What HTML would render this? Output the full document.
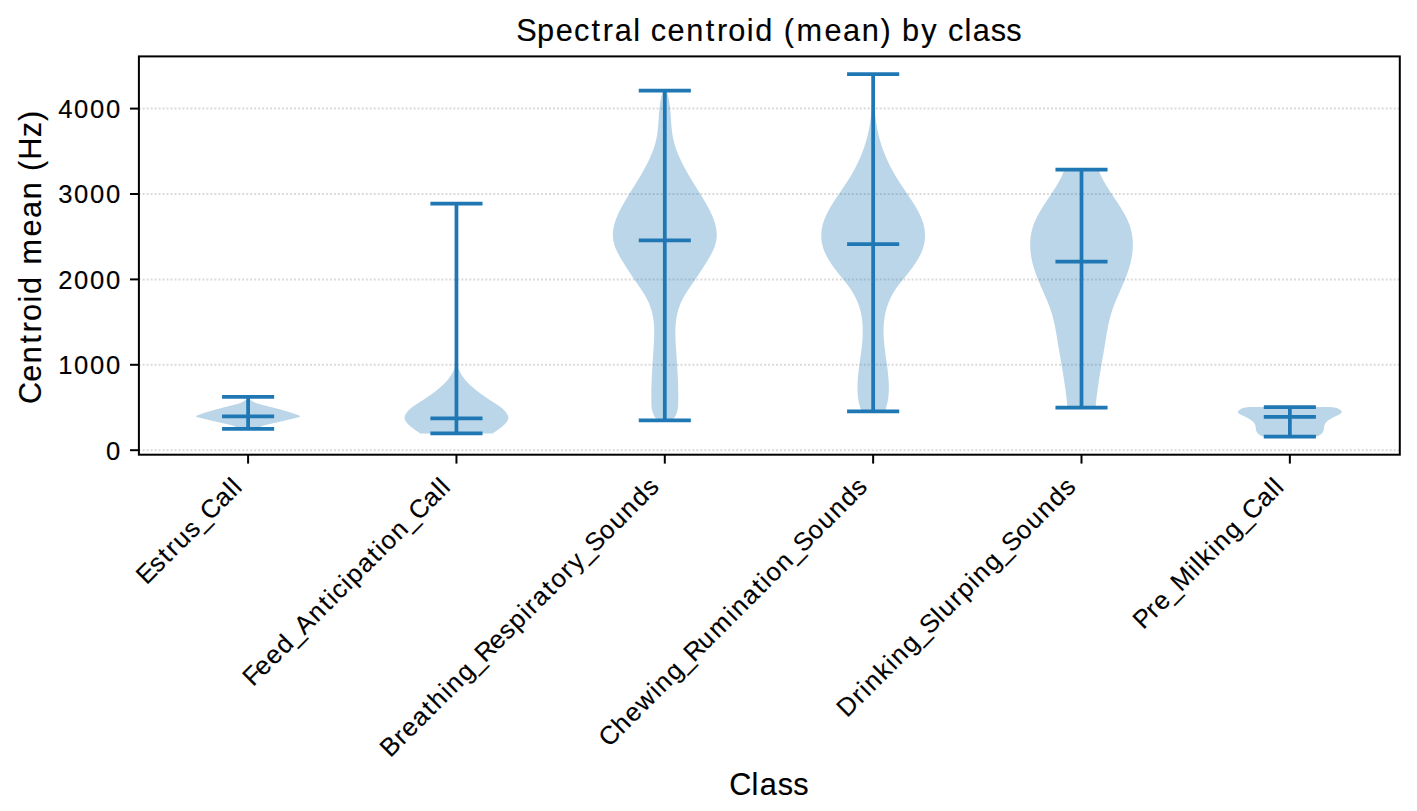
<!DOCTYPE html>
<html><head><meta charset="utf-8"><title>Spectral centroid (mean) by class</title>
<style>html,body{margin:0;padding:0;background:#fff;width:1417px;height:811px;overflow:hidden;font-family:"Liberation Sans",sans-serif;}svg{display:block;}</style>
</head><body>
<svg width="1417" height="811" viewBox="0 0 1417 811"><rect x="0" y="0" width="1417" height="811" fill="#fff"/>
<g stroke="#b0b0b0" stroke-opacity="0.47" stroke-width="2" stroke-dasharray="2 1.984" stroke-dashoffset="0.25"><line x1="138.90" y1="450.20" x2="1399.80" y2="450.20"/><line x1="138.90" y1="364.80" x2="1399.80" y2="364.80"/><line x1="138.90" y1="279.40" x2="1399.80" y2="279.40"/><line x1="138.90" y1="194.00" x2="1399.80" y2="194.00"/><line x1="138.90" y1="108.60" x2="1399.80" y2="108.60"/></g>
<g><path d="M248.60,399.60 L250.08,400.10 L251.22,400.60 L252.12,401.10 L252.91,401.60 L253.71,402.10 L254.64,402.60 L255.81,403.10 L257.27,403.60 L258.96,404.10 L260.82,404.60 L262.78,405.10 L264.78,405.60 L266.79,406.10 L268.80,406.60 L270.80,407.10 L272.77,407.60 L274.72,408.10 L276.62,408.60 L278.49,409.10 L280.32,409.60 L282.12,410.10 L283.87,410.60 L285.60,411.10 L287.28,411.60 L288.93,412.10 L290.54,412.60 L292.11,413.10 L293.64,413.60 L295.12,414.10 L296.55,414.60 L297.92,415.10 L299.19,415.60 L300.08,416.10 L300.17,416.60 L299.24,417.10 L297.60,417.60 L295.69,418.10 L293.66,418.60 L291.57,419.10 L289.43,419.60 L287.28,420.10 L285.16,420.60 L283.04,421.10 L280.91,421.60 L278.75,422.10 L276.53,422.60 L274.24,423.10 L271.94,423.60 L269.68,424.10 L267.53,424.60 L265.53,425.10 L263.76,425.60 L262.27,426.10 L261.12,426.60 L260.53,427.00 L235.67,427.00 L235.08,426.60 L233.93,426.10 L232.44,425.60 L230.67,425.10 L228.67,424.60 L226.52,424.10 L224.26,423.60 L221.96,423.10 L219.67,422.60 L217.45,422.10 L215.29,421.60 L213.16,421.10 L211.04,420.60 L208.92,420.10 L206.77,419.60 L204.63,419.10 L202.54,418.60 L200.51,418.10 L198.60,417.60 L196.96,417.10 L196.03,416.60 L196.12,416.10 L197.01,415.60 L198.28,415.10 L199.65,414.60 L201.08,414.10 L202.56,413.60 L204.09,413.10 L205.66,412.60 L207.27,412.10 L208.92,411.60 L210.60,411.10 L212.33,410.60 L214.08,410.10 L215.88,409.60 L217.71,409.10 L219.58,408.60 L221.48,408.10 L223.43,407.60 L225.40,407.10 L227.40,406.60 L229.41,406.10 L231.42,405.60 L233.42,405.10 L235.38,404.60 L237.24,404.10 L238.93,403.60 L240.39,403.10 L241.56,402.60 L242.49,402.10 L243.29,401.60 L244.08,401.10 L244.98,400.60 L246.12,400.10 L247.60,399.60 Z" fill="#1f77b4" fill-opacity="0.3"/><path d="M457.33,364.00 L457.42,364.50 L457.53,365.00 L457.64,365.50 L457.77,366.00 L457.90,366.50 L458.04,367.00 L458.19,367.50 L458.36,368.00 L458.53,368.50 L458.71,369.00 L458.90,369.50 L459.10,370.00 L459.32,370.50 L459.54,371.00 L459.77,371.50 L460.01,372.00 L460.27,372.50 L460.53,373.00 L460.80,373.50 L461.09,374.00 L461.38,374.50 L461.69,375.00 L462.00,375.50 L462.33,376.00 L462.67,376.50 L463.02,377.00 L463.37,377.50 L463.75,378.00 L464.13,378.50 L464.52,379.00 L464.92,379.50 L465.34,380.00 L465.76,380.50 L466.20,381.00 L466.65,381.50 L467.11,382.00 L467.58,382.50 L468.06,383.00 L468.56,383.50 L469.06,384.00 L469.57,384.50 L470.10,385.00 L470.63,385.50 L471.18,386.00 L471.73,386.50 L472.30,387.00 L472.87,387.50 L473.46,388.00 L474.05,388.50 L474.65,389.00 L475.26,389.50 L475.88,390.00 L476.51,390.50 L477.14,391.00 L477.79,391.50 L478.44,392.00 L479.10,392.50 L479.77,393.00 L480.44,393.50 L481.13,394.00 L481.82,394.50 L482.51,395.00 L483.22,395.50 L483.93,396.00 L484.65,396.50 L485.37,397.00 L486.10,397.50 L486.84,398.00 L487.58,398.50 L488.33,399.00 L489.08,399.50 L489.84,400.00 L490.61,400.50 L491.38,401.00 L492.15,401.50 L492.93,402.00 L493.72,402.50 L494.51,403.00 L495.29,403.50 L496.07,404.00 L496.85,404.50 L497.61,405.00 L498.36,405.50 L499.09,406.00 L499.80,406.50 L500.48,407.00 L501.13,407.50 L501.76,408.00 L502.35,408.50 L502.92,409.00 L503.45,409.50 L503.96,410.00 L504.44,410.50 L504.90,411.00 L505.33,411.50 L505.74,412.00 L506.12,412.50 L506.48,413.00 L506.82,413.50 L507.13,414.00 L507.41,414.50 L507.66,415.00 L507.87,415.50 L508.05,416.00 L508.18,416.50 L508.28,417.00 L508.32,417.50 L508.32,418.00 L508.27,418.50 L508.17,419.00 L508.03,419.50 L507.84,420.00 L507.60,420.50 L507.33,421.00 L507.02,421.50 L506.68,422.00 L506.30,422.50 L505.89,423.00 L505.45,423.50 L504.98,424.00 L504.49,424.50 L503.96,425.00 L503.42,425.50 L502.85,426.00 L502.26,426.50 L501.66,427.00 L501.03,427.50 L500.38,428.00 L499.72,428.50 L499.05,429.00 L498.36,429.50 L497.66,430.00 L496.94,430.50 L496.22,431.00 L495.49,431.50 L494.75,432.00 L494.01,432.50 L493.28,433.00 L492.80,433.40 L420.10,433.40 L419.62,433.00 L418.89,432.50 L418.15,432.00 L417.41,431.50 L416.68,431.00 L415.96,430.50 L415.24,430.00 L414.54,429.50 L413.85,429.00 L413.18,428.50 L412.52,428.00 L411.87,427.50 L411.24,427.00 L410.64,426.50 L410.05,426.00 L409.48,425.50 L408.94,425.00 L408.41,424.50 L407.92,424.00 L407.45,423.50 L407.01,423.00 L406.60,422.50 L406.22,422.00 L405.88,421.50 L405.57,421.00 L405.30,420.50 L405.06,420.00 L404.87,419.50 L404.73,419.00 L404.63,418.50 L404.58,418.00 L404.58,417.50 L404.62,417.00 L404.72,416.50 L404.85,416.00 L405.03,415.50 L405.24,415.00 L405.49,414.50 L405.77,414.00 L406.08,413.50 L406.42,413.00 L406.78,412.50 L407.16,412.00 L407.57,411.50 L408.00,411.00 L408.46,410.50 L408.94,410.00 L409.45,409.50 L409.98,409.00 L410.55,408.50 L411.14,408.00 L411.77,407.50 L412.42,407.00 L413.10,406.50 L413.81,406.00 L414.54,405.50 L415.29,405.00 L416.05,404.50 L416.83,404.00 L417.61,403.50 L418.39,403.00 L419.18,402.50 L419.97,402.00 L420.75,401.50 L421.52,401.00 L422.29,400.50 L423.06,400.00 L423.82,399.50 L424.57,399.00 L425.32,398.50 L426.06,398.00 L426.80,397.50 L427.53,397.00 L428.25,396.50 L428.97,396.00 L429.68,395.50 L430.39,395.00 L431.08,394.50 L431.77,394.00 L432.46,393.50 L433.13,393.00 L433.80,392.50 L434.46,392.00 L435.11,391.50 L435.76,391.00 L436.39,390.50 L437.02,390.00 L437.64,389.50 L438.25,389.00 L438.85,388.50 L439.44,388.00 L440.03,387.50 L440.60,387.00 L441.17,386.50 L441.72,386.00 L442.27,385.50 L442.80,385.00 L443.33,384.50 L443.84,384.00 L444.34,383.50 L444.84,383.00 L445.32,382.50 L445.79,382.00 L446.25,381.50 L446.70,381.00 L447.14,380.50 L447.56,380.00 L447.98,379.50 L448.38,379.00 L448.77,378.50 L449.15,378.00 L449.53,377.50 L449.88,377.00 L450.23,376.50 L450.57,376.00 L450.90,375.50 L451.21,375.00 L451.52,374.50 L451.81,374.00 L452.10,373.50 L452.37,373.00 L452.63,372.50 L452.89,372.00 L453.13,371.50 L453.36,371.00 L453.58,370.50 L453.80,370.00 L454.00,369.50 L454.19,369.00 L454.37,368.50 L454.54,368.00 L454.71,367.50 L454.86,367.00 L455.00,366.50 L455.13,366.00 L455.26,365.50 L455.37,365.00 L455.48,364.50 L455.57,364.00 Z" fill="#1f77b4" fill-opacity="0.3"/><path d="M666.41,90.60 L666.58,91.10 L666.75,91.60 L666.91,92.10 L667.07,92.60 L667.22,93.10 L667.37,93.60 L667.51,94.10 L667.65,94.60 L667.79,95.10 L667.92,95.60 L668.05,96.10 L668.17,96.60 L668.29,97.10 L668.40,97.60 L668.51,98.10 L668.62,98.60 L668.72,99.10 L668.82,99.60 L668.92,100.10 L669.01,100.60 L669.10,101.10 L669.19,101.60 L669.28,102.10 L669.36,102.60 L669.43,103.10 L669.51,103.60 L669.58,104.10 L669.65,104.60 L669.72,105.10 L669.79,105.60 L669.85,106.10 L669.91,106.60 L669.97,107.10 L670.02,107.60 L670.08,108.10 L670.13,108.60 L670.18,109.10 L670.23,109.60 L670.28,110.10 L670.32,110.60 L670.37,111.10 L670.41,111.60 L670.45,112.10 L670.49,112.60 L670.53,113.10 L670.57,113.60 L670.60,114.10 L670.64,114.60 L670.68,115.10 L670.71,115.60 L670.75,116.10 L670.78,116.60 L670.81,117.10 L670.85,117.60 L670.88,118.10 L670.91,118.60 L670.95,119.10 L670.98,119.60 L671.01,120.10 L671.05,120.60 L671.08,121.10 L671.11,121.60 L671.15,122.10 L671.18,122.60 L671.22,123.10 L671.26,123.60 L671.29,124.10 L671.33,124.60 L671.37,125.10 L671.41,125.60 L671.45,126.10 L671.50,126.60 L671.54,127.10 L671.59,127.60 L671.64,128.10 L671.69,128.60 L671.74,129.10 L671.79,129.60 L671.84,130.10 L671.90,130.60 L671.96,131.10 L672.02,131.60 L672.09,132.10 L672.15,132.60 L672.22,133.10 L672.29,133.60 L672.36,134.10 L672.44,134.60 L672.52,135.10 L672.60,135.60 L672.69,136.10 L672.77,136.60 L672.87,137.10 L672.96,137.60 L673.06,138.10 L673.16,138.60 L673.27,139.10 L673.37,139.60 L673.49,140.10 L673.60,140.60 L673.72,141.10 L673.85,141.60 L673.97,142.10 L674.10,142.60 L674.24,143.10 L674.37,143.60 L674.52,144.10 L674.66,144.60 L674.81,145.10 L674.96,145.60 L675.11,146.10 L675.27,146.60 L675.43,147.10 L675.60,147.60 L675.77,148.10 L675.94,148.60 L676.11,149.10 L676.29,149.60 L676.47,150.10 L676.65,150.60 L676.84,151.10 L677.03,151.60 L677.22,152.10 L677.41,152.60 L677.61,153.10 L677.81,153.60 L678.02,154.10 L678.22,154.60 L678.43,155.10 L678.64,155.60 L678.86,156.10 L679.07,156.60 L679.29,157.10 L679.52,157.60 L679.74,158.10 L679.97,158.60 L680.20,159.10 L680.43,159.60 L680.67,160.10 L680.90,160.60 L681.14,161.10 L681.38,161.60 L681.63,162.10 L681.87,162.60 L682.12,163.10 L682.37,163.60 L682.63,164.10 L682.88,164.60 L683.14,165.10 L683.40,165.60 L683.66,166.10 L683.92,166.60 L684.19,167.10 L684.45,167.60 L684.72,168.10 L684.99,168.60 L685.27,169.10 L685.54,169.60 L685.82,170.10 L686.09,170.60 L686.37,171.10 L686.65,171.60 L686.94,172.10 L687.22,172.60 L687.51,173.10 L687.79,173.60 L688.08,174.10 L688.37,174.60 L688.66,175.10 L688.96,175.60 L689.25,176.10 L689.55,176.60 L689.84,177.10 L690.14,177.60 L690.44,178.10 L690.74,178.60 L691.04,179.10 L691.35,179.60 L691.65,180.10 L691.96,180.60 L692.26,181.10 L692.57,181.60 L692.87,182.10 L693.18,182.60 L693.49,183.10 L693.80,183.60 L694.11,184.10 L694.42,184.60 L694.73,185.10 L695.04,185.60 L695.36,186.10 L695.67,186.60 L695.98,187.10 L696.29,187.60 L696.61,188.10 L696.92,188.60 L697.23,189.10 L697.54,189.60 L697.86,190.10 L698.17,190.60 L698.48,191.10 L698.79,191.60 L699.10,192.10 L699.41,192.60 L699.72,193.10 L700.03,193.60 L700.34,194.10 L700.65,194.60 L700.96,195.10 L701.26,195.60 L701.57,196.10 L701.87,196.60 L702.18,197.10 L702.48,197.60 L702.78,198.10 L703.08,198.60 L703.38,199.10 L703.68,199.60 L703.97,200.10 L704.27,200.60 L704.56,201.10 L704.85,201.60 L705.14,202.10 L705.43,202.60 L705.72,203.10 L706.00,203.60 L706.29,204.10 L706.57,204.60 L706.85,205.10 L707.13,205.60 L707.40,206.10 L707.67,206.60 L707.94,207.10 L708.21,207.60 L708.48,208.10 L708.74,208.60 L709.00,209.10 L709.26,209.60 L709.51,210.10 L709.77,210.60 L710.01,211.10 L710.26,211.60 L710.50,212.10 L710.74,212.60 L710.98,213.10 L711.21,213.60 L711.44,214.10 L711.66,214.60 L711.89,215.10 L712.10,215.60 L712.32,216.10 L712.53,216.60 L712.73,217.10 L712.94,217.60 L713.13,218.10 L713.33,218.60 L713.52,219.10 L713.70,219.60 L713.88,220.10 L714.06,220.60 L714.23,221.10 L714.39,221.60 L714.55,222.10 L714.71,222.60 L714.86,223.10 L715.00,223.60 L715.14,224.10 L715.28,224.60 L715.41,225.10 L715.53,225.60 L715.65,226.10 L715.76,226.60 L715.87,227.10 L715.97,227.60 L716.07,228.10 L716.15,228.60 L716.24,229.10 L716.31,229.60 L716.38,230.10 L716.45,230.60 L716.51,231.10 L716.56,231.60 L716.60,232.10 L716.64,232.60 L716.67,233.10 L716.69,233.60 L716.71,234.10 L716.72,234.60 L716.72,235.10 L716.72,235.60 L716.70,236.10 L716.68,236.60 L716.66,237.10 L716.62,237.60 L716.58,238.10 L716.53,238.60 L716.47,239.10 L716.41,239.60 L716.33,240.10 L716.25,240.60 L716.16,241.10 L716.06,241.60 L715.95,242.10 L715.84,242.60 L715.72,243.10 L715.58,243.60 L715.45,244.10 L715.30,244.60 L715.14,245.10 L714.98,245.60 L714.81,246.10 L714.64,246.60 L714.46,247.10 L714.27,247.60 L714.07,248.10 L713.87,248.60 L713.66,249.10 L713.45,249.60 L713.23,250.10 L713.01,250.60 L712.77,251.10 L712.54,251.60 L712.30,252.10 L712.05,252.60 L711.80,253.10 L711.54,253.60 L711.28,254.10 L711.02,254.60 L710.75,255.10 L710.48,255.60 L710.20,256.10 L709.92,256.60 L709.64,257.10 L709.35,257.60 L709.06,258.10 L708.77,258.60 L708.47,259.10 L708.17,259.60 L707.87,260.10 L707.57,260.60 L707.26,261.10 L706.96,261.60 L706.65,262.10 L706.34,262.60 L706.02,263.10 L705.71,263.60 L705.39,264.10 L705.08,264.60 L704.76,265.10 L704.44,265.60 L704.12,266.10 L703.81,266.60 L703.49,267.10 L703.17,267.60 L702.85,268.10 L702.53,268.60 L702.21,269.10 L701.88,269.60 L701.56,270.10 L701.24,270.60 L700.92,271.10 L700.59,271.60 L700.27,272.10 L699.94,272.60 L699.61,273.10 L699.29,273.60 L698.96,274.10 L698.63,274.60 L698.30,275.10 L697.97,275.60 L697.63,276.10 L697.30,276.60 L696.97,277.10 L696.63,277.60 L696.29,278.10 L695.95,278.60 L695.61,279.10 L695.27,279.60 L694.93,280.10 L694.59,280.60 L694.24,281.10 L693.89,281.60 L693.55,282.10 L693.20,282.60 L692.85,283.10 L692.51,283.60 L692.16,284.10 L691.81,284.60 L691.47,285.10 L691.12,285.60 L690.78,286.10 L690.43,286.60 L690.09,287.10 L689.75,287.60 L689.41,288.10 L689.07,288.60 L688.73,289.10 L688.40,289.60 L688.07,290.10 L687.74,290.60 L687.41,291.10 L687.08,291.60 L686.76,292.10 L686.44,292.60 L686.13,293.10 L685.82,293.60 L685.51,294.10 L685.20,294.60 L684.90,295.10 L684.61,295.60 L684.31,296.10 L684.03,296.60 L683.74,297.10 L683.47,297.60 L683.19,298.10 L682.92,298.60 L682.66,299.10 L682.40,299.60 L682.15,300.10 L681.91,300.60 L681.67,301.10 L681.43,301.60 L681.20,302.10 L680.98,302.60 L680.76,303.10 L680.55,303.60 L680.34,304.10 L680.14,304.60 L679.94,305.10 L679.75,305.60 L679.56,306.10 L679.38,306.60 L679.20,307.10 L679.03,307.60 L678.86,308.10 L678.70,308.60 L678.54,309.10 L678.39,309.60 L678.24,310.10 L678.09,310.60 L677.95,311.10 L677.82,311.60 L677.69,312.10 L677.56,312.60 L677.44,313.10 L677.32,313.60 L677.21,314.10 L677.10,314.60 L676.99,315.10 L676.89,315.60 L676.79,316.10 L676.70,316.60 L676.61,317.10 L676.52,317.60 L676.44,318.10 L676.36,318.60 L676.28,319.10 L676.21,319.60 L676.14,320.10 L676.08,320.60 L676.01,321.10 L675.95,321.60 L675.90,322.10 L675.85,322.60 L675.80,323.10 L675.75,323.60 L675.71,324.10 L675.67,324.60 L675.63,325.10 L675.59,325.60 L675.56,326.10 L675.53,326.60 L675.51,327.10 L675.48,327.60 L675.46,328.10 L675.44,328.60 L675.43,329.10 L675.41,329.60 L675.40,330.10 L675.39,330.60 L675.38,331.10 L675.38,331.60 L675.37,332.10 L675.37,332.60 L675.37,333.10 L675.38,333.60 L675.38,334.10 L675.39,334.60 L675.39,335.10 L675.40,335.60 L675.42,336.10 L675.43,336.60 L675.44,337.10 L675.46,337.60 L675.48,338.10 L675.49,338.60 L675.51,339.10 L675.53,339.60 L675.56,340.10 L675.58,340.60 L675.60,341.10 L675.63,341.60 L675.65,342.10 L675.68,342.60 L675.71,343.10 L675.74,343.60 L675.77,344.10 L675.80,344.60 L675.83,345.10 L675.86,345.60 L675.89,346.10 L675.92,346.60 L675.95,347.10 L675.99,347.60 L676.02,348.10 L676.05,348.60 L676.08,349.10 L676.12,349.60 L676.15,350.10 L676.18,350.60 L676.22,351.10 L676.25,351.60 L676.28,352.10 L676.32,352.60 L676.35,353.10 L676.38,353.60 L676.42,354.10 L676.45,354.60 L676.48,355.10 L676.52,355.60 L676.55,356.10 L676.58,356.60 L676.62,357.10 L676.65,357.60 L676.68,358.10 L676.71,358.60 L676.75,359.10 L676.78,359.60 L676.81,360.10 L676.84,360.60 L676.88,361.10 L676.91,361.60 L676.94,362.10 L676.97,362.60 L677.00,363.10 L677.03,363.60 L677.07,364.10 L677.10,364.60 L677.13,365.10 L677.16,365.60 L677.19,366.10 L677.22,366.60 L677.25,367.10 L677.28,367.60 L677.31,368.10 L677.34,368.60 L677.37,369.10 L677.40,369.60 L677.42,370.10 L677.45,370.60 L677.48,371.10 L677.51,371.60 L677.53,372.10 L677.56,372.60 L677.59,373.10 L677.61,373.60 L677.64,374.10 L677.66,374.60 L677.69,375.10 L677.71,375.60 L677.74,376.10 L677.76,376.60 L677.79,377.10 L677.81,377.60 L677.83,378.10 L677.85,378.60 L677.87,379.10 L677.90,379.60 L677.92,380.10 L677.94,380.60 L677.96,381.10 L677.98,381.60 L677.99,382.10 L678.01,382.60 L678.03,383.10 L678.05,383.60 L678.06,384.10 L678.08,384.60 L678.10,385.10 L678.11,385.60 L678.13,386.10 L678.14,386.60 L678.15,387.10 L678.17,387.60 L678.18,388.10 L678.19,388.60 L678.20,389.10 L678.21,389.60 L678.22,390.10 L678.23,390.60 L678.24,391.10 L678.25,391.60 L678.25,392.10 L678.26,392.60 L678.26,393.10 L678.27,393.60 L678.27,394.10 L678.28,394.60 L678.28,395.10 L678.28,395.60 L678.28,396.10 L678.28,396.60 L678.28,397.10 L678.28,397.60 L678.28,398.10 L678.28,398.60 L678.28,399.10 L678.27,399.60 L678.27,400.10 L678.26,400.60 L678.25,401.10 L678.25,401.60 L678.24,402.10 L678.23,402.60 L678.22,403.10 L678.20,403.60 L678.19,404.10 L678.17,404.60 L678.14,405.10 L678.11,405.60 L678.08,406.10 L678.03,406.60 L677.99,407.10 L677.93,407.60 L677.87,408.10 L677.80,408.60 L677.72,409.10 L677.63,409.60 L677.53,410.10 L677.42,410.60 L677.30,411.10 L677.16,411.60 L677.02,412.10 L676.86,412.60 L676.69,413.10 L676.50,413.60 L676.30,414.10 L676.08,414.60 L675.85,415.10 L675.60,415.60 L675.34,416.10 L675.05,416.60 L674.75,417.10 L674.39,417.60 L673.99,418.10 L673.50,418.60 L672.92,419.10 L672.24,419.60 L671.43,420.10 L670.87,420.40 L658.73,420.40 L658.17,420.10 L657.36,419.60 L656.68,419.10 L656.10,418.60 L655.61,418.10 L655.21,417.60 L654.85,417.10 L654.55,416.60 L654.26,416.10 L654.00,415.60 L653.75,415.10 L653.52,414.60 L653.30,414.10 L653.10,413.60 L652.91,413.10 L652.74,412.60 L652.58,412.10 L652.44,411.60 L652.30,411.10 L652.18,410.60 L652.07,410.10 L651.97,409.60 L651.88,409.10 L651.80,408.60 L651.73,408.10 L651.67,407.60 L651.61,407.10 L651.57,406.60 L651.52,406.10 L651.49,405.60 L651.46,405.10 L651.43,404.60 L651.41,404.10 L651.40,403.60 L651.38,403.10 L651.37,402.60 L651.36,402.10 L651.35,401.60 L651.35,401.10 L651.34,400.60 L651.33,400.10 L651.33,399.60 L651.32,399.10 L651.32,398.60 L651.32,398.10 L651.32,397.60 L651.32,397.10 L651.32,396.60 L651.32,396.10 L651.32,395.60 L651.32,395.10 L651.32,394.60 L651.33,394.10 L651.33,393.60 L651.34,393.10 L651.34,392.60 L651.35,392.10 L651.35,391.60 L651.36,391.10 L651.37,390.60 L651.38,390.10 L651.39,389.60 L651.40,389.10 L651.41,388.60 L651.42,388.10 L651.43,387.60 L651.45,387.10 L651.46,386.60 L651.47,386.10 L651.49,385.60 L651.50,385.10 L651.52,384.60 L651.54,384.10 L651.55,383.60 L651.57,383.10 L651.59,382.60 L651.61,382.10 L651.62,381.60 L651.64,381.10 L651.66,380.60 L651.68,380.10 L651.70,379.60 L651.73,379.10 L651.75,378.60 L651.77,378.10 L651.79,377.60 L651.81,377.10 L651.84,376.60 L651.86,376.10 L651.89,375.60 L651.91,375.10 L651.94,374.60 L651.96,374.10 L651.99,373.60 L652.01,373.10 L652.04,372.60 L652.07,372.10 L652.09,371.60 L652.12,371.10 L652.15,370.60 L652.18,370.10 L652.20,369.60 L652.23,369.10 L652.26,368.60 L652.29,368.10 L652.32,367.60 L652.35,367.10 L652.38,366.60 L652.41,366.10 L652.44,365.60 L652.47,365.10 L652.50,364.60 L652.53,364.10 L652.57,363.60 L652.60,363.10 L652.63,362.60 L652.66,362.10 L652.69,361.60 L652.72,361.10 L652.76,360.60 L652.79,360.10 L652.82,359.60 L652.85,359.10 L652.89,358.60 L652.92,358.10 L652.95,357.60 L652.98,357.10 L653.02,356.60 L653.05,356.10 L653.08,355.60 L653.12,355.10 L653.15,354.60 L653.18,354.10 L653.22,353.60 L653.25,353.10 L653.28,352.60 L653.32,352.10 L653.35,351.60 L653.38,351.10 L653.42,350.60 L653.45,350.10 L653.48,349.60 L653.52,349.10 L653.55,348.60 L653.58,348.10 L653.61,347.60 L653.65,347.10 L653.68,346.60 L653.71,346.10 L653.74,345.60 L653.77,345.10 L653.80,344.60 L653.83,344.10 L653.86,343.60 L653.89,343.10 L653.92,342.60 L653.95,342.10 L653.97,341.60 L654.00,341.10 L654.02,340.60 L654.04,340.10 L654.07,339.60 L654.09,339.10 L654.11,338.60 L654.12,338.10 L654.14,337.60 L654.16,337.10 L654.17,336.60 L654.18,336.10 L654.20,335.60 L654.21,335.10 L654.21,334.60 L654.22,334.10 L654.22,333.60 L654.23,333.10 L654.23,332.60 L654.23,332.10 L654.22,331.60 L654.22,331.10 L654.21,330.60 L654.20,330.10 L654.19,329.60 L654.17,329.10 L654.16,328.60 L654.14,328.10 L654.12,327.60 L654.09,327.10 L654.07,326.60 L654.04,326.10 L654.01,325.60 L653.97,325.10 L653.93,324.60 L653.89,324.10 L653.85,323.60 L653.80,323.10 L653.75,322.60 L653.70,322.10 L653.65,321.60 L653.59,321.10 L653.52,320.60 L653.46,320.10 L653.39,319.60 L653.32,319.10 L653.24,318.60 L653.16,318.10 L653.08,317.60 L652.99,317.10 L652.90,316.60 L652.81,316.10 L652.71,315.60 L652.61,315.10 L652.50,314.60 L652.39,314.10 L652.28,313.60 L652.16,313.10 L652.04,312.60 L651.91,312.10 L651.78,311.60 L651.65,311.10 L651.51,310.60 L651.36,310.10 L651.21,309.60 L651.06,309.10 L650.90,308.60 L650.74,308.10 L650.57,307.60 L650.40,307.10 L650.22,306.60 L650.04,306.10 L649.85,305.60 L649.66,305.10 L649.46,304.60 L649.26,304.10 L649.05,303.60 L648.84,303.10 L648.62,302.60 L648.40,302.10 L648.17,301.60 L647.93,301.10 L647.69,300.60 L647.45,300.10 L647.20,299.60 L646.94,299.10 L646.68,298.60 L646.41,298.10 L646.13,297.60 L645.86,297.10 L645.57,296.60 L645.29,296.10 L644.99,295.60 L644.70,295.10 L644.40,294.60 L644.09,294.10 L643.78,293.60 L643.47,293.10 L643.16,292.60 L642.84,292.10 L642.52,291.60 L642.19,291.10 L641.86,290.60 L641.53,290.10 L641.20,289.60 L640.87,289.10 L640.53,288.60 L640.19,288.10 L639.85,287.60 L639.51,287.10 L639.17,286.60 L638.82,286.10 L638.48,285.60 L638.13,285.10 L637.79,284.60 L637.44,284.10 L637.09,283.60 L636.75,283.10 L636.40,282.60 L636.05,282.10 L635.71,281.60 L635.36,281.10 L635.01,280.60 L634.67,280.10 L634.33,279.60 L633.99,279.10 L633.65,278.60 L633.31,278.10 L632.97,277.60 L632.63,277.10 L632.30,276.60 L631.97,276.10 L631.63,275.60 L631.30,275.10 L630.97,274.60 L630.64,274.10 L630.31,273.60 L629.99,273.10 L629.66,272.60 L629.33,272.10 L629.01,271.60 L628.68,271.10 L628.36,270.60 L628.04,270.10 L627.72,269.60 L627.39,269.10 L627.07,268.60 L626.75,268.10 L626.43,267.60 L626.11,267.10 L625.79,266.60 L625.48,266.10 L625.16,265.60 L624.84,265.10 L624.52,264.60 L624.21,264.10 L623.89,263.60 L623.58,263.10 L623.26,262.60 L622.95,262.10 L622.64,261.60 L622.34,261.10 L622.03,260.60 L621.73,260.10 L621.43,259.60 L621.13,259.10 L620.83,258.60 L620.54,258.10 L620.25,257.60 L619.96,257.10 L619.68,256.60 L619.40,256.10 L619.12,255.60 L618.85,255.10 L618.58,254.60 L618.32,254.10 L618.06,253.60 L617.80,253.10 L617.55,252.60 L617.30,252.10 L617.06,251.60 L616.83,251.10 L616.59,250.60 L616.37,250.10 L616.15,249.60 L615.94,249.10 L615.73,248.60 L615.53,248.10 L615.33,247.60 L615.14,247.10 L614.96,246.60 L614.79,246.10 L614.62,245.60 L614.46,245.10 L614.30,244.60 L614.15,244.10 L614.02,243.60 L613.88,243.10 L613.76,242.60 L613.65,242.10 L613.54,241.60 L613.44,241.10 L613.35,240.60 L613.27,240.10 L613.19,239.60 L613.13,239.10 L613.07,238.60 L613.02,238.10 L612.98,237.60 L612.94,237.10 L612.92,236.60 L612.90,236.10 L612.88,235.60 L612.88,235.10 L612.88,234.60 L612.89,234.10 L612.91,233.60 L612.93,233.10 L612.96,232.60 L613.00,232.10 L613.04,231.60 L613.09,231.10 L613.15,230.60 L613.22,230.10 L613.29,229.60 L613.36,229.10 L613.45,228.60 L613.53,228.10 L613.63,227.60 L613.73,227.10 L613.84,226.60 L613.95,226.10 L614.07,225.60 L614.19,225.10 L614.32,224.60 L614.46,224.10 L614.60,223.60 L614.74,223.10 L614.89,222.60 L615.05,222.10 L615.21,221.60 L615.37,221.10 L615.54,220.60 L615.72,220.10 L615.90,219.60 L616.08,219.10 L616.27,218.60 L616.47,218.10 L616.66,217.60 L616.87,217.10 L617.07,216.60 L617.28,216.10 L617.50,215.60 L617.71,215.10 L617.94,214.60 L618.16,214.10 L618.39,213.60 L618.62,213.10 L618.86,212.60 L619.10,212.10 L619.34,211.60 L619.59,211.10 L619.83,210.60 L620.09,210.10 L620.34,209.60 L620.60,209.10 L620.86,208.60 L621.12,208.10 L621.39,207.60 L621.66,207.10 L621.93,206.60 L622.20,206.10 L622.47,205.60 L622.75,205.10 L623.03,204.60 L623.31,204.10 L623.60,203.60 L623.88,203.10 L624.17,202.60 L624.46,202.10 L624.75,201.60 L625.04,201.10 L625.33,200.60 L625.63,200.10 L625.92,199.60 L626.22,199.10 L626.52,198.60 L626.82,198.10 L627.12,197.60 L627.42,197.10 L627.73,196.60 L628.03,196.10 L628.34,195.60 L628.64,195.10 L628.95,194.60 L629.26,194.10 L629.57,193.60 L629.88,193.10 L630.19,192.60 L630.50,192.10 L630.81,191.60 L631.12,191.10 L631.43,190.60 L631.74,190.10 L632.06,189.60 L632.37,189.10 L632.68,188.60 L632.99,188.10 L633.31,187.60 L633.62,187.10 L633.93,186.60 L634.24,186.10 L634.56,185.60 L634.87,185.10 L635.18,184.60 L635.49,184.10 L635.80,183.60 L636.11,183.10 L636.42,182.60 L636.73,182.10 L637.03,181.60 L637.34,181.10 L637.64,180.60 L637.95,180.10 L638.25,179.60 L638.56,179.10 L638.86,178.60 L639.16,178.10 L639.46,177.60 L639.76,177.10 L640.05,176.60 L640.35,176.10 L640.64,175.60 L640.94,175.10 L641.23,174.60 L641.52,174.10 L641.81,173.60 L642.09,173.10 L642.38,172.60 L642.66,172.10 L642.95,171.60 L643.23,171.10 L643.51,170.60 L643.78,170.10 L644.06,169.60 L644.33,169.10 L644.61,168.60 L644.88,168.10 L645.15,167.60 L645.41,167.10 L645.68,166.60 L645.94,166.10 L646.20,165.60 L646.46,165.10 L646.72,164.60 L646.97,164.10 L647.23,163.60 L647.48,163.10 L647.73,162.60 L647.97,162.10 L648.22,161.60 L648.46,161.10 L648.70,160.60 L648.93,160.10 L649.17,159.60 L649.40,159.10 L649.63,158.60 L649.86,158.10 L650.08,157.60 L650.31,157.10 L650.53,156.60 L650.74,156.10 L650.96,155.60 L651.17,155.10 L651.38,154.60 L651.58,154.10 L651.79,153.60 L651.99,153.10 L652.19,152.60 L652.38,152.10 L652.57,151.60 L652.76,151.10 L652.95,150.60 L653.13,150.10 L653.31,149.60 L653.49,149.10 L653.66,148.60 L653.83,148.10 L654.00,147.60 L654.17,147.10 L654.33,146.60 L654.49,146.10 L654.64,145.60 L654.79,145.10 L654.94,144.60 L655.08,144.10 L655.23,143.60 L655.36,143.10 L655.50,142.60 L655.63,142.10 L655.75,141.60 L655.88,141.10 L656.00,140.60 L656.11,140.10 L656.23,139.60 L656.33,139.10 L656.44,138.60 L656.54,138.10 L656.64,137.60 L656.73,137.10 L656.83,136.60 L656.91,136.10 L657.00,135.60 L657.08,135.10 L657.16,134.60 L657.24,134.10 L657.31,133.60 L657.38,133.10 L657.45,132.60 L657.51,132.10 L657.58,131.60 L657.64,131.10 L657.70,130.60 L657.76,130.10 L657.81,129.60 L657.86,129.10 L657.91,128.60 L657.96,128.10 L658.01,127.60 L658.06,127.10 L658.10,126.60 L658.15,126.10 L658.19,125.60 L658.23,125.10 L658.27,124.60 L658.31,124.10 L658.34,123.60 L658.38,123.10 L658.42,122.60 L658.45,122.10 L658.49,121.60 L658.52,121.10 L658.55,120.60 L658.59,120.10 L658.62,119.60 L658.65,119.10 L658.69,118.60 L658.72,118.10 L658.75,117.60 L658.79,117.10 L658.82,116.60 L658.85,116.10 L658.89,115.60 L658.92,115.10 L658.96,114.60 L659.00,114.10 L659.03,113.60 L659.07,113.10 L659.11,112.60 L659.15,112.10 L659.19,111.60 L659.23,111.10 L659.28,110.60 L659.32,110.10 L659.37,109.60 L659.42,109.10 L659.47,108.60 L659.52,108.10 L659.58,107.60 L659.63,107.10 L659.69,106.60 L659.75,106.10 L659.81,105.60 L659.88,105.10 L659.95,104.60 L660.02,104.10 L660.09,103.60 L660.17,103.10 L660.24,102.60 L660.32,102.10 L660.41,101.60 L660.50,101.10 L660.59,100.60 L660.68,100.10 L660.78,99.60 L660.88,99.10 L660.98,98.60 L661.09,98.10 L661.20,97.60 L661.31,97.10 L661.43,96.60 L661.55,96.10 L661.68,95.60 L661.81,95.10 L661.95,94.60 L662.09,94.10 L662.23,93.60 L662.38,93.10 L662.53,92.60 L662.69,92.10 L662.85,91.60 L663.02,91.10 L663.19,90.60 Z" fill="#1f77b4" fill-opacity="0.3"/><path d="M873.64,74.10 L873.64,74.60 L873.64,75.10 L873.65,75.60 L873.65,76.10 L873.65,76.60 L873.65,77.10 L873.66,77.60 L873.66,78.10 L873.66,78.60 L873.66,79.10 L873.67,79.60 L873.67,80.10 L873.67,80.60 L873.68,81.10 L873.68,81.60 L873.68,82.10 L873.69,82.60 L873.69,83.10 L873.70,83.60 L873.70,84.10 L873.71,84.60 L873.71,85.10 L873.72,85.60 L873.72,86.10 L873.73,86.60 L873.74,87.10 L873.74,87.60 L873.75,88.10 L873.76,88.60 L873.77,89.10 L873.78,89.60 L873.79,90.10 L873.80,90.60 L873.81,91.10 L873.82,91.60 L873.83,92.10 L873.84,92.60 L873.85,93.10 L873.86,93.60 L873.88,94.10 L873.89,94.60 L873.91,95.10 L873.92,95.60 L873.94,96.10 L873.96,96.60 L873.97,97.10 L873.99,97.60 L874.01,98.10 L874.03,98.60 L874.05,99.10 L874.07,99.60 L874.09,100.10 L874.12,100.60 L874.14,101.10 L874.16,101.60 L874.19,102.10 L874.22,102.60 L874.24,103.10 L874.27,103.60 L874.30,104.10 L874.33,104.60 L874.36,105.10 L874.39,105.60 L874.42,106.10 L874.46,106.60 L874.49,107.10 L874.53,107.60 L874.57,108.10 L874.60,108.60 L874.64,109.10 L874.68,109.60 L874.72,110.10 L874.77,110.60 L874.81,111.10 L874.86,111.60 L874.90,112.10 L874.95,112.60 L875.00,113.10 L875.05,113.60 L875.10,114.10 L875.15,114.60 L875.20,115.10 L875.26,115.60 L875.31,116.10 L875.37,116.60 L875.43,117.10 L875.49,117.60 L875.55,118.10 L875.62,118.60 L875.68,119.10 L875.75,119.60 L875.81,120.10 L875.88,120.60 L875.95,121.10 L876.02,121.60 L876.10,122.10 L876.17,122.60 L876.25,123.10 L876.33,123.60 L876.40,124.10 L876.49,124.60 L876.57,125.10 L876.65,125.60 L876.74,126.10 L876.83,126.60 L876.92,127.10 L877.01,127.60 L877.10,128.10 L877.19,128.60 L877.29,129.10 L877.39,129.60 L877.49,130.10 L877.59,130.60 L877.69,131.10 L877.80,131.60 L877.90,132.10 L878.01,132.60 L878.12,133.10 L878.24,133.60 L878.35,134.10 L878.47,134.60 L878.59,135.10 L878.71,135.60 L878.83,136.10 L878.95,136.60 L879.08,137.10 L879.21,137.60 L879.34,138.10 L879.47,138.60 L879.61,139.10 L879.74,139.60 L879.88,140.10 L880.02,140.60 L880.17,141.10 L880.31,141.60 L880.46,142.10 L880.61,142.60 L880.76,143.10 L880.91,143.60 L881.07,144.10 L881.23,144.60 L881.39,145.10 L881.55,145.60 L881.71,146.10 L881.88,146.60 L882.05,147.10 L882.22,147.60 L882.39,148.10 L882.57,148.60 L882.74,149.10 L882.92,149.60 L883.10,150.10 L883.29,150.60 L883.47,151.10 L883.66,151.60 L883.85,152.10 L884.04,152.60 L884.24,153.10 L884.43,153.60 L884.63,154.10 L884.83,154.60 L885.04,155.10 L885.24,155.60 L885.45,156.10 L885.66,156.60 L885.87,157.10 L886.09,157.60 L886.30,158.10 L886.52,158.60 L886.74,159.10 L886.97,159.60 L887.19,160.10 L887.42,160.60 L887.65,161.10 L887.88,161.60 L888.11,162.10 L888.35,162.60 L888.59,163.10 L888.83,163.60 L889.07,164.10 L889.32,164.60 L889.57,165.10 L889.82,165.60 L890.07,166.10 L890.32,166.60 L890.58,167.10 L890.84,167.60 L891.10,168.10 L891.36,168.60 L891.63,169.10 L891.89,169.60 L892.16,170.10 L892.44,170.60 L892.71,171.10 L892.99,171.60 L893.27,172.10 L893.55,172.60 L893.83,173.10 L894.12,173.60 L894.41,174.10 L894.70,174.60 L894.99,175.10 L895.28,175.60 L895.58,176.10 L895.88,176.60 L896.18,177.10 L896.49,177.60 L896.79,178.10 L897.10,178.60 L897.41,179.10 L897.73,179.60 L898.04,180.10 L898.36,180.60 L898.68,181.10 L899.00,181.60 L899.33,182.10 L899.65,182.60 L899.98,183.10 L900.31,183.60 L900.64,184.10 L900.97,184.60 L901.30,185.10 L901.63,185.60 L901.97,186.10 L902.30,186.60 L902.64,187.10 L902.98,187.60 L903.32,188.10 L903.65,188.60 L903.99,189.10 L904.33,189.60 L904.67,190.10 L905.01,190.60 L905.35,191.10 L905.69,191.60 L906.03,192.10 L906.37,192.60 L906.71,193.10 L907.05,193.60 L907.39,194.10 L907.73,194.60 L908.07,195.10 L908.41,195.60 L908.74,196.10 L909.08,196.60 L909.41,197.10 L909.75,197.60 L910.08,198.10 L910.41,198.60 L910.74,199.10 L911.07,199.60 L911.39,200.10 L911.72,200.60 L912.04,201.10 L912.36,201.60 L912.68,202.10 L913.00,202.60 L913.32,203.10 L913.63,203.60 L913.94,204.10 L914.25,204.60 L914.55,205.10 L914.86,205.60 L915.16,206.10 L915.45,206.60 L915.75,207.10 L916.04,207.60 L916.33,208.10 L916.62,208.60 L916.90,209.10 L917.18,209.60 L917.45,210.10 L917.73,210.60 L917.99,211.10 L918.26,211.60 L918.52,212.10 L918.78,212.60 L919.03,213.10 L919.28,213.60 L919.52,214.10 L919.76,214.60 L920.00,215.10 L920.23,215.60 L920.46,216.10 L920.68,216.60 L920.90,217.10 L921.11,217.60 L921.32,218.10 L921.52,218.60 L921.72,219.10 L921.91,219.60 L922.10,220.10 L922.28,220.60 L922.46,221.10 L922.63,221.60 L922.79,222.10 L922.95,222.60 L923.11,223.10 L923.26,223.60 L923.40,224.10 L923.53,224.60 L923.66,225.10 L923.79,225.60 L923.91,226.10 L924.02,226.60 L924.13,227.10 L924.23,227.60 L924.32,228.10 L924.41,228.60 L924.50,229.10 L924.57,229.60 L924.65,230.10 L924.71,230.60 L924.77,231.10 L924.82,231.60 L924.87,232.10 L924.91,232.60 L924.95,233.10 L924.98,233.60 L925.00,234.10 L925.02,234.60 L925.03,235.10 L925.03,235.60 L925.03,236.10 L925.02,236.60 L925.01,237.10 L924.99,237.60 L924.96,238.10 L924.93,238.60 L924.89,239.10 L924.84,239.60 L924.79,240.10 L924.73,240.60 L924.67,241.10 L924.60,241.60 L924.52,242.10 L924.44,242.60 L924.35,243.10 L924.25,243.60 L924.15,244.10 L924.04,244.60 L923.92,245.10 L923.80,245.60 L923.67,246.10 L923.54,246.60 L923.40,247.10 L923.25,247.60 L923.09,248.10 L922.93,248.60 L922.76,249.10 L922.59,249.60 L922.41,250.10 L922.22,250.60 L922.02,251.10 L921.82,251.60 L921.61,252.10 L921.40,252.60 L921.18,253.10 L920.95,253.60 L920.71,254.10 L920.47,254.60 L920.23,255.10 L919.97,255.60 L919.72,256.10 L919.45,256.60 L919.18,257.10 L918.91,257.60 L918.63,258.10 L918.34,258.60 L918.05,259.10 L917.75,259.60 L917.45,260.10 L917.15,260.60 L916.84,261.10 L916.52,261.60 L916.21,262.10 L915.88,262.60 L915.56,263.10 L915.23,263.60 L914.89,264.10 L914.55,264.60 L914.21,265.10 L913.87,265.60 L913.52,266.10 L913.16,266.60 L912.81,267.10 L912.45,267.60 L912.08,268.10 L911.72,268.60 L911.35,269.10 L910.97,269.60 L910.60,270.10 L910.22,270.60 L909.84,271.10 L909.45,271.60 L909.06,272.10 L908.67,272.60 L908.28,273.10 L907.88,273.60 L907.49,274.10 L907.08,274.60 L906.68,275.10 L906.28,275.60 L905.87,276.10 L905.46,276.60 L905.05,277.10 L904.64,277.60 L904.23,278.10 L903.82,278.60 L903.41,279.10 L903.00,279.60 L902.59,280.10 L902.18,280.60 L901.78,281.10 L901.37,281.60 L900.97,282.10 L900.57,282.60 L900.17,283.10 L899.78,283.60 L899.39,284.10 L899.00,284.60 L898.62,285.10 L898.24,285.60 L897.87,286.10 L897.50,286.60 L897.14,287.10 L896.79,287.60 L896.44,288.10 L896.09,288.60 L895.75,289.10 L895.42,289.60 L895.09,290.10 L894.77,290.60 L894.45,291.10 L894.14,291.60 L893.83,292.10 L893.53,292.60 L893.24,293.10 L892.95,293.60 L892.67,294.10 L892.39,294.60 L892.11,295.10 L891.84,295.60 L891.58,296.10 L891.32,296.60 L891.07,297.10 L890.82,297.60 L890.58,298.10 L890.34,298.60 L890.10,299.10 L889.87,299.60 L889.65,300.10 L889.43,300.60 L889.22,301.10 L889.01,301.60 L888.80,302.10 L888.60,302.60 L888.40,303.10 L888.21,303.60 L888.03,304.10 L887.84,304.60 L887.67,305.10 L887.49,305.60 L887.32,306.10 L887.16,306.60 L887.00,307.10 L886.84,307.60 L886.69,308.10 L886.54,308.60 L886.40,309.10 L886.26,309.60 L886.12,310.10 L885.99,310.60 L885.86,311.10 L885.74,311.60 L885.62,312.10 L885.50,312.60 L885.39,313.10 L885.28,313.60 L885.18,314.10 L885.07,314.60 L884.98,315.10 L884.88,315.60 L884.79,316.10 L884.71,316.60 L884.62,317.10 L884.54,317.60 L884.47,318.10 L884.39,318.60 L884.32,319.10 L884.26,319.60 L884.19,320.10 L884.13,320.60 L884.08,321.10 L884.02,321.60 L883.97,322.10 L883.93,322.60 L883.88,323.10 L883.84,323.60 L883.80,324.10 L883.77,324.60 L883.74,325.10 L883.71,325.60 L883.68,326.10 L883.65,326.60 L883.63,327.10 L883.61,327.60 L883.60,328.10 L883.59,328.60 L883.57,329.10 L883.57,329.60 L883.56,330.10 L883.56,330.60 L883.56,331.10 L883.56,331.60 L883.56,332.10 L883.57,332.60 L883.58,333.10 L883.59,333.60 L883.60,334.10 L883.62,334.60 L883.63,335.10 L883.65,335.60 L883.67,336.10 L883.70,336.60 L883.72,337.10 L883.75,337.60 L883.78,338.10 L883.81,338.60 L883.84,339.10 L883.88,339.60 L883.91,340.10 L883.95,340.60 L883.99,341.10 L884.03,341.60 L884.07,342.10 L884.12,342.60 L884.16,343.10 L884.21,343.60 L884.26,344.10 L884.31,344.60 L884.36,345.10 L884.41,345.60 L884.46,346.10 L884.52,346.60 L884.57,347.10 L884.63,347.60 L884.69,348.10 L884.74,348.60 L884.80,349.10 L884.86,349.60 L884.92,350.10 L884.99,350.60 L885.05,351.10 L885.11,351.60 L885.18,352.10 L885.24,352.60 L885.31,353.10 L885.37,353.60 L885.44,354.10 L885.51,354.60 L885.57,355.10 L885.64,355.60 L885.71,356.10 L885.78,356.60 L885.85,357.10 L885.92,357.60 L885.99,358.10 L886.06,358.60 L886.12,359.10 L886.19,359.60 L886.26,360.10 L886.33,360.60 L886.40,361.10 L886.47,361.60 L886.54,362.10 L886.61,362.60 L886.68,363.10 L886.75,363.60 L886.82,364.10 L886.88,364.60 L886.95,365.10 L887.02,365.60 L887.08,366.10 L887.15,366.60 L887.21,367.10 L887.28,367.60 L887.34,368.10 L887.41,368.60 L887.47,369.10 L887.53,369.60 L887.59,370.10 L887.65,370.60 L887.71,371.10 L887.77,371.60 L887.82,372.10 L887.88,372.60 L887.94,373.10 L887.99,373.60 L888.04,374.10 L888.09,374.60 L888.14,375.10 L888.19,375.60 L888.24,376.10 L888.29,376.60 L888.33,377.10 L888.37,377.60 L888.42,378.10 L888.46,378.60 L888.49,379.10 L888.53,379.60 L888.57,380.10 L888.60,380.60 L888.63,381.10 L888.66,381.60 L888.69,382.10 L888.72,382.60 L888.74,383.10 L888.76,383.60 L888.78,384.10 L888.80,384.60 L888.81,385.10 L888.83,385.60 L888.84,386.10 L888.84,386.60 L888.85,387.10 L888.85,387.60 L888.85,388.10 L888.85,388.60 L888.84,389.10 L888.83,389.60 L888.82,390.10 L888.81,390.60 L888.79,391.10 L888.77,391.60 L888.75,392.10 L888.72,392.60 L888.69,393.10 L888.66,393.60 L888.62,394.10 L888.58,394.60 L888.54,395.10 L888.49,395.60 L888.44,396.10 L888.38,396.60 L888.32,397.10 L888.26,397.60 L888.20,398.10 L888.13,398.60 L888.05,399.10 L887.97,399.60 L887.89,400.10 L887.80,400.60 L887.71,401.10 L887.62,401.60 L887.52,402.10 L887.41,402.60 L887.31,403.10 L887.19,403.60 L887.07,404.10 L886.95,404.60 L886.82,405.10 L886.69,405.60 L886.56,406.10 L886.41,406.60 L886.27,407.10 L886.12,407.60 L885.96,408.10 L885.80,408.60 L885.63,409.10 L885.46,409.60 L885.28,410.10 L885.10,410.60 L884.91,411.10 L884.79,411.40 L861.51,411.40 L861.39,411.10 L861.20,410.60 L861.02,410.10 L860.84,409.60 L860.67,409.10 L860.50,408.60 L860.34,408.10 L860.18,407.60 L860.03,407.10 L859.89,406.60 L859.74,406.10 L859.61,405.60 L859.48,405.10 L859.35,404.60 L859.23,404.10 L859.11,403.60 L858.99,403.10 L858.89,402.60 L858.78,402.10 L858.68,401.60 L858.59,401.10 L858.50,400.60 L858.41,400.10 L858.33,399.60 L858.25,399.10 L858.17,398.60 L858.10,398.10 L858.04,397.60 L857.98,397.10 L857.92,396.60 L857.86,396.10 L857.81,395.60 L857.76,395.10 L857.72,394.60 L857.68,394.10 L857.64,393.60 L857.61,393.10 L857.58,392.60 L857.55,392.10 L857.53,391.60 L857.51,391.10 L857.49,390.60 L857.48,390.10 L857.47,389.60 L857.46,389.10 L857.45,388.60 L857.45,388.10 L857.45,387.60 L857.45,387.10 L857.46,386.60 L857.46,386.10 L857.47,385.60 L857.49,385.10 L857.50,384.60 L857.52,384.10 L857.54,383.60 L857.56,383.10 L857.58,382.60 L857.61,382.10 L857.64,381.60 L857.67,381.10 L857.70,380.60 L857.73,380.10 L857.77,379.60 L857.81,379.10 L857.84,378.60 L857.88,378.10 L857.93,377.60 L857.97,377.10 L858.01,376.60 L858.06,376.10 L858.11,375.60 L858.16,375.10 L858.21,374.60 L858.26,374.10 L858.31,373.60 L858.36,373.10 L858.42,372.60 L858.48,372.10 L858.53,371.60 L858.59,371.10 L858.65,370.60 L858.71,370.10 L858.77,369.60 L858.83,369.10 L858.89,368.60 L858.96,368.10 L859.02,367.60 L859.09,367.10 L859.15,366.60 L859.22,366.10 L859.28,365.60 L859.35,365.10 L859.42,364.60 L859.48,364.10 L859.55,363.60 L859.62,363.10 L859.69,362.60 L859.76,362.10 L859.83,361.60 L859.90,361.10 L859.97,360.60 L860.04,360.10 L860.11,359.60 L860.18,359.10 L860.24,358.60 L860.31,358.10 L860.38,357.60 L860.45,357.10 L860.52,356.60 L860.59,356.10 L860.66,355.60 L860.73,355.10 L860.79,354.60 L860.86,354.10 L860.93,353.60 L860.99,353.10 L861.06,352.60 L861.12,352.10 L861.19,351.60 L861.25,351.10 L861.31,350.60 L861.38,350.10 L861.44,349.60 L861.50,349.10 L861.56,348.60 L861.61,348.10 L861.67,347.60 L861.73,347.10 L861.78,346.60 L861.84,346.10 L861.89,345.60 L861.94,345.10 L861.99,344.60 L862.04,344.10 L862.09,343.60 L862.14,343.10 L862.18,342.60 L862.23,342.10 L862.27,341.60 L862.31,341.10 L862.35,340.60 L862.39,340.10 L862.42,339.60 L862.46,339.10 L862.49,338.60 L862.52,338.10 L862.55,337.60 L862.58,337.10 L862.60,336.60 L862.63,336.10 L862.65,335.60 L862.67,335.10 L862.68,334.60 L862.70,334.10 L862.71,333.60 L862.72,333.10 L862.73,332.60 L862.74,332.10 L862.74,331.60 L862.74,331.10 L862.74,330.60 L862.74,330.10 L862.73,329.60 L862.73,329.10 L862.71,328.60 L862.70,328.10 L862.69,327.60 L862.67,327.10 L862.65,326.60 L862.62,326.10 L862.59,325.60 L862.56,325.10 L862.53,324.60 L862.50,324.10 L862.46,323.60 L862.42,323.10 L862.37,322.60 L862.33,322.10 L862.28,321.60 L862.22,321.10 L862.17,320.60 L862.11,320.10 L862.04,319.60 L861.98,319.10 L861.91,318.60 L861.83,318.10 L861.76,317.60 L861.68,317.10 L861.59,316.60 L861.51,316.10 L861.42,315.60 L861.32,315.10 L861.23,314.60 L861.12,314.10 L861.02,313.60 L860.91,313.10 L860.80,312.60 L860.68,312.10 L860.56,311.60 L860.44,311.10 L860.31,310.60 L860.18,310.10 L860.04,309.60 L859.90,309.10 L859.76,308.60 L859.61,308.10 L859.46,307.60 L859.30,307.10 L859.14,306.60 L858.98,306.10 L858.81,305.60 L858.63,305.10 L858.46,304.60 L858.27,304.10 L858.09,303.60 L857.90,303.10 L857.70,302.60 L857.50,302.10 L857.29,301.60 L857.08,301.10 L856.87,300.60 L856.65,300.10 L856.43,299.60 L856.20,299.10 L855.96,298.60 L855.72,298.10 L855.48,297.60 L855.23,297.10 L854.98,296.60 L854.72,296.10 L854.46,295.60 L854.19,295.10 L853.91,294.60 L853.63,294.10 L853.35,293.60 L853.06,293.10 L852.77,292.60 L852.47,292.10 L852.16,291.60 L851.85,291.10 L851.53,290.60 L851.21,290.10 L850.88,289.60 L850.55,289.10 L850.21,288.60 L849.86,288.10 L849.51,287.60 L849.16,287.10 L848.80,286.60 L848.43,286.10 L848.06,285.60 L847.68,285.10 L847.30,284.60 L846.91,284.10 L846.52,283.60 L846.13,283.10 L845.73,282.60 L845.33,282.10 L844.93,281.60 L844.52,281.10 L844.12,280.60 L843.71,280.10 L843.30,279.60 L842.89,279.10 L842.48,278.60 L842.07,278.10 L841.66,277.60 L841.25,277.10 L840.84,276.60 L840.43,276.10 L840.02,275.60 L839.62,275.10 L839.22,274.60 L838.81,274.10 L838.42,273.60 L838.02,273.10 L837.63,272.60 L837.24,272.10 L836.85,271.60 L836.46,271.10 L836.08,270.60 L835.70,270.10 L835.33,269.60 L834.95,269.10 L834.58,268.60 L834.22,268.10 L833.85,267.60 L833.49,267.10 L833.14,266.60 L832.78,266.10 L832.43,265.60 L832.09,265.10 L831.75,264.60 L831.41,264.10 L831.07,263.60 L830.74,263.10 L830.42,262.60 L830.09,262.10 L829.78,261.60 L829.46,261.10 L829.15,260.60 L828.85,260.10 L828.55,259.60 L828.25,259.10 L827.96,258.60 L827.67,258.10 L827.39,257.60 L827.12,257.10 L826.85,256.60 L826.58,256.10 L826.33,255.60 L826.07,255.10 L825.83,254.60 L825.59,254.10 L825.35,253.60 L825.12,253.10 L824.90,252.60 L824.69,252.10 L824.48,251.60 L824.28,251.10 L824.08,250.60 L823.89,250.10 L823.71,249.60 L823.54,249.10 L823.37,248.60 L823.21,248.10 L823.05,247.60 L822.90,247.10 L822.76,246.60 L822.63,246.10 L822.50,245.60 L822.38,245.10 L822.26,244.60 L822.15,244.10 L822.05,243.60 L821.95,243.10 L821.86,242.60 L821.78,242.10 L821.70,241.60 L821.63,241.10 L821.57,240.60 L821.51,240.10 L821.46,239.60 L821.41,239.10 L821.37,238.60 L821.34,238.10 L821.31,237.60 L821.29,237.10 L821.28,236.60 L821.27,236.10 L821.27,235.60 L821.27,235.10 L821.28,234.60 L821.30,234.10 L821.32,233.60 L821.35,233.10 L821.39,232.60 L821.43,232.10 L821.48,231.60 L821.53,231.10 L821.59,230.60 L821.65,230.10 L821.73,229.60 L821.80,229.10 L821.89,228.60 L821.98,228.10 L822.07,227.60 L822.17,227.10 L822.28,226.60 L822.39,226.10 L822.51,225.60 L822.64,225.10 L822.77,224.60 L822.90,224.10 L823.04,223.60 L823.19,223.10 L823.35,222.60 L823.51,222.10 L823.67,221.60 L823.84,221.10 L824.02,220.60 L824.20,220.10 L824.39,219.60 L824.58,219.10 L824.78,218.60 L824.98,218.10 L825.19,217.60 L825.40,217.10 L825.62,216.60 L825.84,216.10 L826.07,215.60 L826.30,215.10 L826.54,214.60 L826.78,214.10 L827.02,213.60 L827.27,213.10 L827.52,212.60 L827.78,212.10 L828.04,211.60 L828.31,211.10 L828.57,210.60 L828.85,210.10 L829.12,209.60 L829.40,209.10 L829.68,208.60 L829.97,208.10 L830.26,207.60 L830.55,207.10 L830.85,206.60 L831.14,206.10 L831.44,205.60 L831.75,205.10 L832.05,204.60 L832.36,204.10 L832.67,203.60 L832.98,203.10 L833.30,202.60 L833.62,202.10 L833.94,201.60 L834.26,201.10 L834.58,200.60 L834.91,200.10 L835.23,199.60 L835.56,199.10 L835.89,198.60 L836.22,198.10 L836.55,197.60 L836.89,197.10 L837.22,196.60 L837.56,196.10 L837.89,195.60 L838.23,195.10 L838.57,194.60 L838.91,194.10 L839.25,193.60 L839.59,193.10 L839.93,192.60 L840.27,192.10 L840.61,191.60 L840.95,191.10 L841.29,190.60 L841.63,190.10 L841.97,189.60 L842.31,189.10 L842.65,188.60 L842.98,188.10 L843.32,187.60 L843.66,187.10 L844.00,186.60 L844.33,186.10 L844.67,185.60 L845.00,185.10 L845.33,184.60 L845.66,184.10 L845.99,183.60 L846.32,183.10 L846.65,182.60 L846.97,182.10 L847.30,181.60 L847.62,181.10 L847.94,180.60 L848.26,180.10 L848.57,179.60 L848.89,179.10 L849.20,178.60 L849.51,178.10 L849.81,177.60 L850.12,177.10 L850.42,176.60 L850.72,176.10 L851.02,175.60 L851.31,175.10 L851.60,174.60 L851.89,174.10 L852.18,173.60 L852.47,173.10 L852.75,172.60 L853.03,172.10 L853.31,171.60 L853.59,171.10 L853.86,170.60 L854.14,170.10 L854.41,169.60 L854.67,169.10 L854.94,168.60 L855.20,168.10 L855.46,167.60 L855.72,167.10 L855.98,166.60 L856.23,166.10 L856.48,165.60 L856.73,165.10 L856.98,164.60 L857.23,164.10 L857.47,163.60 L857.71,163.10 L857.95,162.60 L858.19,162.10 L858.42,161.60 L858.65,161.10 L858.88,160.60 L859.11,160.10 L859.33,159.60 L859.56,159.10 L859.78,158.60 L860.00,158.10 L860.21,157.60 L860.43,157.10 L860.64,156.60 L860.85,156.10 L861.06,155.60 L861.26,155.10 L861.47,154.60 L861.67,154.10 L861.87,153.60 L862.06,153.10 L862.26,152.60 L862.45,152.10 L862.64,151.60 L862.83,151.10 L863.01,150.60 L863.20,150.10 L863.38,149.60 L863.56,149.10 L863.73,148.60 L863.91,148.10 L864.08,147.60 L864.25,147.10 L864.42,146.60 L864.59,146.10 L864.75,145.60 L864.91,145.10 L865.07,144.60 L865.23,144.10 L865.39,143.60 L865.54,143.10 L865.69,142.60 L865.84,142.10 L865.99,141.60 L866.13,141.10 L866.28,140.60 L866.42,140.10 L866.56,139.60 L866.69,139.10 L866.83,138.60 L866.96,138.10 L867.09,137.60 L867.22,137.10 L867.35,136.60 L867.47,136.10 L867.59,135.60 L867.71,135.10 L867.83,134.60 L867.95,134.10 L868.06,133.60 L868.18,133.10 L868.29,132.60 L868.40,132.10 L868.50,131.60 L868.61,131.10 L868.71,130.60 L868.81,130.10 L868.91,129.60 L869.01,129.10 L869.11,128.60 L869.20,128.10 L869.29,127.60 L869.38,127.10 L869.47,126.60 L869.56,126.10 L869.65,125.60 L869.73,125.10 L869.81,124.60 L869.90,124.10 L869.97,123.60 L870.05,123.10 L870.13,122.60 L870.20,122.10 L870.28,121.60 L870.35,121.10 L870.42,120.60 L870.49,120.10 L870.55,119.60 L870.62,119.10 L870.68,118.60 L870.75,118.10 L870.81,117.60 L870.87,117.10 L870.93,116.60 L870.99,116.10 L871.04,115.60 L871.10,115.10 L871.15,114.60 L871.20,114.10 L871.25,113.60 L871.30,113.10 L871.35,112.60 L871.40,112.10 L871.44,111.60 L871.49,111.10 L871.53,110.60 L871.58,110.10 L871.62,109.60 L871.66,109.10 L871.70,108.60 L871.73,108.10 L871.77,107.60 L871.81,107.10 L871.84,106.60 L871.88,106.10 L871.91,105.60 L871.94,105.10 L871.97,104.60 L872.00,104.10 L872.03,103.60 L872.06,103.10 L872.08,102.60 L872.11,102.10 L872.14,101.60 L872.16,101.10 L872.18,100.60 L872.21,100.10 L872.23,99.60 L872.25,99.10 L872.27,98.60 L872.29,98.10 L872.31,97.60 L872.33,97.10 L872.34,96.60 L872.36,96.10 L872.38,95.60 L872.39,95.10 L872.41,94.60 L872.42,94.10 L872.44,93.60 L872.45,93.10 L872.46,92.60 L872.47,92.10 L872.48,91.60 L872.49,91.10 L872.50,90.60 L872.51,90.10 L872.52,89.60 L872.53,89.10 L872.54,88.60 L872.55,88.10 L872.56,87.60 L872.56,87.10 L872.57,86.60 L872.58,86.10 L872.58,85.60 L872.59,85.10 L872.59,84.60 L872.60,84.10 L872.60,83.60 L872.61,83.10 L872.61,82.60 L872.62,82.10 L872.62,81.60 L872.62,81.10 L872.63,80.60 L872.63,80.10 L872.63,79.60 L872.64,79.10 L872.64,78.60 L872.64,78.10 L872.64,77.60 L872.65,77.10 L872.65,76.60 L872.65,76.10 L872.65,75.60 L872.66,75.10 L872.66,74.60 L872.66,74.10 Z" fill="#1f77b4" fill-opacity="0.3"/><path d="M1098.57,169.50 L1098.74,170.00 L1098.91,170.50 L1099.09,171.00 L1099.27,171.50 L1099.46,172.00 L1099.66,172.50 L1099.86,173.00 L1100.06,173.50 L1100.27,174.00 L1100.49,174.50 L1100.71,175.00 L1100.94,175.50 L1101.17,176.00 L1101.40,176.50 L1101.64,177.00 L1101.89,177.50 L1102.14,178.00 L1102.39,178.50 L1102.65,179.00 L1102.91,179.50 L1103.17,180.00 L1103.44,180.50 L1103.71,181.00 L1103.99,181.50 L1104.27,182.00 L1104.55,182.50 L1104.84,183.00 L1105.13,183.50 L1105.42,184.00 L1105.71,184.50 L1106.01,185.00 L1106.31,185.50 L1106.62,186.00 L1106.92,186.50 L1107.23,187.00 L1107.54,187.50 L1107.85,188.00 L1108.17,188.50 L1108.49,189.00 L1108.81,189.50 L1109.13,190.00 L1109.45,190.50 L1109.77,191.00 L1110.10,191.50 L1110.42,192.00 L1110.75,192.50 L1111.08,193.00 L1111.41,193.50 L1111.74,194.00 L1112.07,194.50 L1112.40,195.00 L1112.74,195.50 L1113.07,196.00 L1113.40,196.50 L1113.74,197.00 L1114.07,197.50 L1114.40,198.00 L1114.74,198.50 L1115.07,199.00 L1115.40,199.50 L1115.74,200.00 L1116.07,200.50 L1116.40,201.00 L1116.73,201.50 L1117.06,202.00 L1117.39,202.50 L1117.72,203.00 L1118.05,203.50 L1118.37,204.00 L1118.70,204.50 L1119.02,205.00 L1119.34,205.50 L1119.66,206.00 L1119.98,206.50 L1120.29,207.00 L1120.61,207.50 L1120.92,208.00 L1121.23,208.50 L1121.54,209.00 L1121.84,209.50 L1122.14,210.00 L1122.44,210.50 L1122.74,211.00 L1123.04,211.50 L1123.33,212.00 L1123.61,212.50 L1123.90,213.00 L1124.18,213.50 L1124.46,214.00 L1124.73,214.50 L1125.00,215.00 L1125.27,215.50 L1125.53,216.00 L1125.79,216.50 L1126.05,217.00 L1126.30,217.50 L1126.55,218.00 L1126.79,218.50 L1127.03,219.00 L1127.26,219.50 L1127.49,220.00 L1127.71,220.50 L1127.93,221.00 L1128.15,221.50 L1128.36,222.00 L1128.56,222.50 L1128.76,223.00 L1128.95,223.50 L1129.14,224.00 L1129.32,224.50 L1129.50,225.00 L1129.68,225.50 L1129.84,226.00 L1130.01,226.50 L1130.17,227.00 L1130.32,227.50 L1130.47,228.00 L1130.61,228.50 L1130.75,229.00 L1130.89,229.50 L1131.02,230.00 L1131.14,230.50 L1131.26,231.00 L1131.38,231.50 L1131.49,232.00 L1131.59,232.50 L1131.70,233.00 L1131.79,233.50 L1131.89,234.00 L1131.97,234.50 L1132.06,235.00 L1132.14,235.50 L1132.21,236.00 L1132.28,236.50 L1132.35,237.00 L1132.41,237.50 L1132.47,238.00 L1132.52,238.50 L1132.57,239.00 L1132.62,239.50 L1132.66,240.00 L1132.69,240.50 L1132.73,241.00 L1132.75,241.50 L1132.78,242.00 L1132.80,242.50 L1132.81,243.00 L1132.83,243.50 L1132.83,244.00 L1132.84,244.50 L1132.84,245.00 L1132.83,245.50 L1132.83,246.00 L1132.82,246.50 L1132.80,247.00 L1132.78,247.50 L1132.76,248.00 L1132.73,248.50 L1132.70,249.00 L1132.67,249.50 L1132.63,250.00 L1132.59,250.50 L1132.55,251.00 L1132.50,251.50 L1132.45,252.00 L1132.39,252.50 L1132.33,253.00 L1132.27,253.50 L1132.21,254.00 L1132.14,254.50 L1132.07,255.00 L1131.99,255.50 L1131.91,256.00 L1131.83,256.50 L1131.74,257.00 L1131.66,257.50 L1131.56,258.00 L1131.47,258.50 L1131.37,259.00 L1131.27,259.50 L1131.17,260.00 L1131.06,260.50 L1130.95,261.00 L1130.83,261.50 L1130.72,262.00 L1130.60,262.50 L1130.48,263.00 L1130.35,263.50 L1130.22,264.00 L1130.09,264.50 L1129.96,265.00 L1129.82,265.50 L1129.68,266.00 L1129.54,266.50 L1129.40,267.00 L1129.25,267.50 L1129.10,268.00 L1128.95,268.50 L1128.79,269.00 L1128.64,269.50 L1128.48,270.00 L1128.31,270.50 L1128.15,271.00 L1127.98,271.50 L1127.81,272.00 L1127.64,272.50 L1127.46,273.00 L1127.29,273.50 L1127.11,274.00 L1126.93,274.50 L1126.74,275.00 L1126.56,275.50 L1126.37,276.00 L1126.18,276.50 L1125.99,277.00 L1125.79,277.50 L1125.60,278.00 L1125.40,278.50 L1125.20,279.00 L1125.00,279.50 L1124.79,280.00 L1124.59,280.50 L1124.38,281.00 L1124.18,281.50 L1123.97,282.00 L1123.76,282.50 L1123.55,283.00 L1123.34,283.50 L1123.12,284.00 L1122.91,284.50 L1122.70,285.00 L1122.48,285.50 L1122.26,286.00 L1122.05,286.50 L1121.83,287.00 L1121.61,287.50 L1121.39,288.00 L1121.17,288.50 L1120.95,289.00 L1120.73,289.50 L1120.51,290.00 L1120.29,290.50 L1120.07,291.00 L1119.85,291.50 L1119.63,292.00 L1119.41,292.50 L1119.19,293.00 L1118.97,293.50 L1118.75,294.00 L1118.54,294.50 L1118.32,295.00 L1118.10,295.50 L1117.88,296.00 L1117.67,296.50 L1117.45,297.00 L1117.24,297.50 L1117.02,298.00 L1116.81,298.50 L1116.60,299.00 L1116.39,299.50 L1116.18,300.00 L1115.97,300.50 L1115.76,301.00 L1115.56,301.50 L1115.35,302.00 L1115.15,302.50 L1114.95,303.00 L1114.75,303.50 L1114.55,304.00 L1114.35,304.50 L1114.16,305.00 L1113.97,305.50 L1113.78,306.00 L1113.59,306.50 L1113.40,307.00 L1113.22,307.50 L1113.04,308.00 L1112.86,308.50 L1112.68,309.00 L1112.51,309.50 L1112.33,310.00 L1112.17,310.50 L1112.00,311.00 L1111.83,311.50 L1111.67,312.00 L1111.52,312.50 L1111.36,313.00 L1111.21,313.50 L1111.06,314.00 L1110.91,314.50 L1110.76,315.00 L1110.62,315.50 L1110.48,316.00 L1110.34,316.50 L1110.21,317.00 L1110.08,317.50 L1109.95,318.00 L1109.82,318.50 L1109.69,319.00 L1109.57,319.50 L1109.45,320.00 L1109.33,320.50 L1109.21,321.00 L1109.09,321.50 L1108.98,322.00 L1108.86,322.50 L1108.75,323.00 L1108.64,323.50 L1108.54,324.00 L1108.43,324.50 L1108.33,325.00 L1108.22,325.50 L1108.12,326.00 L1108.02,326.50 L1107.92,327.00 L1107.83,327.50 L1107.73,328.00 L1107.63,328.50 L1107.54,329.00 L1107.45,329.50 L1107.36,330.00 L1107.27,330.50 L1107.18,331.00 L1107.09,331.50 L1107.00,332.00 L1106.91,332.50 L1106.83,333.00 L1106.74,333.50 L1106.65,334.00 L1106.57,334.50 L1106.49,335.00 L1106.40,335.50 L1106.32,336.00 L1106.24,336.50 L1106.15,337.00 L1106.07,337.50 L1105.99,338.00 L1105.91,338.50 L1105.83,339.00 L1105.74,339.50 L1105.66,340.00 L1105.58,340.50 L1105.50,341.00 L1105.42,341.50 L1105.34,342.00 L1105.25,342.50 L1105.17,343.00 L1105.09,343.50 L1105.00,344.00 L1104.92,344.50 L1104.84,345.00 L1104.75,345.50 L1104.67,346.00 L1104.59,346.50 L1104.50,347.00 L1104.42,347.50 L1104.33,348.00 L1104.25,348.50 L1104.16,349.00 L1104.08,349.50 L1103.99,350.00 L1103.91,350.50 L1103.82,351.00 L1103.74,351.50 L1103.65,352.00 L1103.57,352.50 L1103.48,353.00 L1103.39,353.50 L1103.31,354.00 L1103.22,354.50 L1103.14,355.00 L1103.05,355.50 L1102.96,356.00 L1102.88,356.50 L1102.79,357.00 L1102.70,357.50 L1102.62,358.00 L1102.53,358.50 L1102.45,359.00 L1102.36,359.50 L1102.27,360.00 L1102.19,360.50 L1102.10,361.00 L1102.02,361.50 L1101.93,362.00 L1101.84,362.50 L1101.76,363.00 L1101.67,363.50 L1101.59,364.00 L1101.50,364.50 L1101.42,365.00 L1101.33,365.50 L1101.25,366.00 L1101.16,366.50 L1101.08,367.00 L1100.99,367.50 L1100.91,368.00 L1100.82,368.50 L1100.74,369.00 L1100.66,369.50 L1100.57,370.00 L1100.49,370.50 L1100.41,371.00 L1100.32,371.50 L1100.24,372.00 L1100.16,372.50 L1100.08,373.00 L1100.00,373.50 L1099.91,374.00 L1099.83,374.50 L1099.75,375.00 L1099.67,375.50 L1099.59,376.00 L1099.51,376.50 L1099.43,377.00 L1099.35,377.50 L1099.27,378.00 L1099.20,378.50 L1099.12,379.00 L1099.04,379.50 L1098.96,380.00 L1098.89,380.50 L1098.81,381.00 L1098.73,381.50 L1098.66,382.00 L1098.58,382.50 L1098.51,383.00 L1098.43,383.50 L1098.36,384.00 L1098.28,384.50 L1098.21,385.00 L1098.14,385.50 L1098.07,386.00 L1097.99,386.50 L1097.92,387.00 L1097.85,387.50 L1097.78,388.00 L1097.71,388.50 L1097.64,389.00 L1097.58,389.50 L1097.51,390.00 L1097.44,390.50 L1097.37,391.00 L1097.31,391.50 L1097.24,392.00 L1097.18,392.50 L1097.11,393.00 L1097.05,393.50 L1096.99,394.00 L1096.92,394.50 L1096.86,395.00 L1096.80,395.50 L1096.74,396.00 L1096.68,396.50 L1096.62,397.00 L1096.56,397.50 L1096.51,398.00 L1096.45,398.50 L1096.39,399.00 L1096.34,399.50 L1096.28,400.00 L1096.23,400.50 L1096.18,401.00 L1096.12,401.50 L1096.07,402.00 L1096.02,402.50 L1095.97,403.00 L1095.92,403.50 L1095.87,404.00 L1095.82,404.50 L1095.78,405.00 L1095.73,405.50 L1095.69,406.00 L1095.64,406.50 L1095.60,407.00 L1095.55,407.50 L1095.54,407.70 L1067.46,407.70 L1067.45,407.50 L1067.40,407.00 L1067.36,406.50 L1067.31,406.00 L1067.27,405.50 L1067.22,405.00 L1067.18,404.50 L1067.13,404.00 L1067.08,403.50 L1067.03,403.00 L1066.98,402.50 L1066.93,402.00 L1066.88,401.50 L1066.82,401.00 L1066.77,400.50 L1066.72,400.00 L1066.66,399.50 L1066.61,399.00 L1066.55,398.50 L1066.49,398.00 L1066.44,397.50 L1066.38,397.00 L1066.32,396.50 L1066.26,396.00 L1066.20,395.50 L1066.14,395.00 L1066.08,394.50 L1066.01,394.00 L1065.95,393.50 L1065.89,393.00 L1065.82,392.50 L1065.76,392.00 L1065.69,391.50 L1065.63,391.00 L1065.56,390.50 L1065.49,390.00 L1065.42,389.50 L1065.36,389.00 L1065.29,388.50 L1065.22,388.00 L1065.15,387.50 L1065.08,387.00 L1065.01,386.50 L1064.93,386.00 L1064.86,385.50 L1064.79,385.00 L1064.72,384.50 L1064.64,384.00 L1064.57,383.50 L1064.49,383.00 L1064.42,382.50 L1064.34,382.00 L1064.27,381.50 L1064.19,381.00 L1064.11,380.50 L1064.04,380.00 L1063.96,379.50 L1063.88,379.00 L1063.80,378.50 L1063.73,378.00 L1063.65,377.50 L1063.57,377.00 L1063.49,376.50 L1063.41,376.00 L1063.33,375.50 L1063.25,375.00 L1063.17,374.50 L1063.09,374.00 L1063.00,373.50 L1062.92,373.00 L1062.84,372.50 L1062.76,372.00 L1062.68,371.50 L1062.59,371.00 L1062.51,370.50 L1062.43,370.00 L1062.34,369.50 L1062.26,369.00 L1062.18,368.50 L1062.09,368.00 L1062.01,367.50 L1061.92,367.00 L1061.84,366.50 L1061.75,366.00 L1061.67,365.50 L1061.58,365.00 L1061.50,364.50 L1061.41,364.00 L1061.33,363.50 L1061.24,363.00 L1061.16,362.50 L1061.07,362.00 L1060.98,361.50 L1060.90,361.00 L1060.81,360.50 L1060.73,360.00 L1060.64,359.50 L1060.55,359.00 L1060.47,358.50 L1060.38,358.00 L1060.30,357.50 L1060.21,357.00 L1060.12,356.50 L1060.04,356.00 L1059.95,355.50 L1059.86,355.00 L1059.78,354.50 L1059.69,354.00 L1059.61,353.50 L1059.52,353.00 L1059.43,352.50 L1059.35,352.00 L1059.26,351.50 L1059.18,351.00 L1059.09,350.50 L1059.01,350.00 L1058.92,349.50 L1058.84,349.00 L1058.75,348.50 L1058.67,348.00 L1058.58,347.50 L1058.50,347.00 L1058.41,346.50 L1058.33,346.00 L1058.25,345.50 L1058.16,345.00 L1058.08,344.50 L1058.00,344.00 L1057.91,343.50 L1057.83,343.00 L1057.75,342.50 L1057.66,342.00 L1057.58,341.50 L1057.50,341.00 L1057.42,340.50 L1057.34,340.00 L1057.26,339.50 L1057.17,339.00 L1057.09,338.50 L1057.01,338.00 L1056.93,337.50 L1056.85,337.00 L1056.76,336.50 L1056.68,336.00 L1056.60,335.50 L1056.51,335.00 L1056.43,334.50 L1056.35,334.00 L1056.26,333.50 L1056.17,333.00 L1056.09,332.50 L1056.00,332.00 L1055.91,331.50 L1055.82,331.00 L1055.73,330.50 L1055.64,330.00 L1055.55,329.50 L1055.46,329.00 L1055.37,328.50 L1055.27,328.00 L1055.17,327.50 L1055.08,327.00 L1054.98,326.50 L1054.88,326.00 L1054.78,325.50 L1054.67,325.00 L1054.57,324.50 L1054.46,324.00 L1054.36,323.50 L1054.25,323.00 L1054.14,322.50 L1054.02,322.00 L1053.91,321.50 L1053.79,321.00 L1053.67,320.50 L1053.55,320.00 L1053.43,319.50 L1053.31,319.00 L1053.18,318.50 L1053.05,318.00 L1052.92,317.50 L1052.79,317.00 L1052.66,316.50 L1052.52,316.00 L1052.38,315.50 L1052.24,315.00 L1052.09,314.50 L1051.94,314.00 L1051.79,313.50 L1051.64,313.00 L1051.48,312.50 L1051.33,312.00 L1051.17,311.50 L1051.00,311.00 L1050.83,310.50 L1050.67,310.00 L1050.49,309.50 L1050.32,309.00 L1050.14,308.50 L1049.96,308.00 L1049.78,307.50 L1049.60,307.00 L1049.41,306.50 L1049.22,306.00 L1049.03,305.50 L1048.84,305.00 L1048.65,304.50 L1048.45,304.00 L1048.25,303.50 L1048.05,303.00 L1047.85,302.50 L1047.65,302.00 L1047.44,301.50 L1047.24,301.00 L1047.03,300.50 L1046.82,300.00 L1046.61,299.50 L1046.40,299.00 L1046.19,298.50 L1045.98,298.00 L1045.76,297.50 L1045.55,297.00 L1045.33,296.50 L1045.12,296.00 L1044.90,295.50 L1044.68,295.00 L1044.46,294.50 L1044.25,294.00 L1044.03,293.50 L1043.81,293.00 L1043.59,292.50 L1043.37,292.00 L1043.15,291.50 L1042.93,291.00 L1042.71,290.50 L1042.49,290.00 L1042.27,289.50 L1042.05,289.00 L1041.83,288.50 L1041.61,288.00 L1041.39,287.50 L1041.17,287.00 L1040.95,286.50 L1040.74,286.00 L1040.52,285.50 L1040.30,285.00 L1040.09,284.50 L1039.88,284.00 L1039.66,283.50 L1039.45,283.00 L1039.24,282.50 L1039.03,282.00 L1038.82,281.50 L1038.62,281.00 L1038.41,280.50 L1038.21,280.00 L1038.00,279.50 L1037.80,279.00 L1037.60,278.50 L1037.40,278.00 L1037.21,277.50 L1037.01,277.00 L1036.82,276.50 L1036.63,276.00 L1036.44,275.50 L1036.26,275.00 L1036.07,274.50 L1035.89,274.00 L1035.71,273.50 L1035.54,273.00 L1035.36,272.50 L1035.19,272.00 L1035.02,271.50 L1034.85,271.00 L1034.69,270.50 L1034.52,270.00 L1034.36,269.50 L1034.21,269.00 L1034.05,268.50 L1033.90,268.00 L1033.75,267.50 L1033.60,267.00 L1033.46,266.50 L1033.32,266.00 L1033.18,265.50 L1033.04,265.00 L1032.91,264.50 L1032.78,264.00 L1032.65,263.50 L1032.52,263.00 L1032.40,262.50 L1032.28,262.00 L1032.17,261.50 L1032.05,261.00 L1031.94,260.50 L1031.83,260.00 L1031.73,259.50 L1031.63,259.00 L1031.53,258.50 L1031.44,258.00 L1031.34,257.50 L1031.26,257.00 L1031.17,256.50 L1031.09,256.00 L1031.01,255.50 L1030.93,255.00 L1030.86,254.50 L1030.79,254.00 L1030.73,253.50 L1030.67,253.00 L1030.61,252.50 L1030.55,252.00 L1030.50,251.50 L1030.45,251.00 L1030.41,250.50 L1030.37,250.00 L1030.33,249.50 L1030.30,249.00 L1030.27,248.50 L1030.24,248.00 L1030.22,247.50 L1030.20,247.00 L1030.18,246.50 L1030.17,246.00 L1030.17,245.50 L1030.16,245.00 L1030.16,244.50 L1030.17,244.00 L1030.17,243.50 L1030.19,243.00 L1030.20,242.50 L1030.22,242.00 L1030.25,241.50 L1030.27,241.00 L1030.31,240.50 L1030.34,240.00 L1030.38,239.50 L1030.43,239.00 L1030.48,238.50 L1030.53,238.00 L1030.59,237.50 L1030.65,237.00 L1030.72,236.50 L1030.79,236.00 L1030.86,235.50 L1030.94,235.00 L1031.03,234.50 L1031.11,234.00 L1031.21,233.50 L1031.30,233.00 L1031.41,232.50 L1031.51,232.00 L1031.62,231.50 L1031.74,231.00 L1031.86,230.50 L1031.98,230.00 L1032.11,229.50 L1032.25,229.00 L1032.39,228.50 L1032.53,228.00 L1032.68,227.50 L1032.83,227.00 L1032.99,226.50 L1033.16,226.00 L1033.32,225.50 L1033.50,225.00 L1033.68,224.50 L1033.86,224.00 L1034.05,223.50 L1034.24,223.00 L1034.44,222.50 L1034.64,222.00 L1034.85,221.50 L1035.07,221.00 L1035.29,220.50 L1035.51,220.00 L1035.74,219.50 L1035.97,219.00 L1036.21,218.50 L1036.45,218.00 L1036.70,217.50 L1036.95,217.00 L1037.21,216.50 L1037.47,216.00 L1037.73,215.50 L1038.00,215.00 L1038.27,214.50 L1038.54,214.00 L1038.82,213.50 L1039.10,213.00 L1039.39,212.50 L1039.67,212.00 L1039.96,211.50 L1040.26,211.00 L1040.56,210.50 L1040.86,210.00 L1041.16,209.50 L1041.46,209.00 L1041.77,208.50 L1042.08,208.00 L1042.39,207.50 L1042.71,207.00 L1043.02,206.50 L1043.34,206.00 L1043.66,205.50 L1043.98,205.00 L1044.30,204.50 L1044.63,204.00 L1044.95,203.50 L1045.28,203.00 L1045.61,202.50 L1045.94,202.00 L1046.27,201.50 L1046.60,201.00 L1046.93,200.50 L1047.26,200.00 L1047.60,199.50 L1047.93,199.00 L1048.26,198.50 L1048.60,198.00 L1048.93,197.50 L1049.26,197.00 L1049.60,196.50 L1049.93,196.00 L1050.26,195.50 L1050.60,195.00 L1050.93,194.50 L1051.26,194.00 L1051.59,193.50 L1051.92,193.00 L1052.25,192.50 L1052.58,192.00 L1052.90,191.50 L1053.23,191.00 L1053.55,190.50 L1053.87,190.00 L1054.19,189.50 L1054.51,189.00 L1054.83,188.50 L1055.15,188.00 L1055.46,187.50 L1055.77,187.00 L1056.08,186.50 L1056.38,186.00 L1056.69,185.50 L1056.99,185.00 L1057.29,184.50 L1057.58,184.00 L1057.87,183.50 L1058.16,183.00 L1058.45,182.50 L1058.73,182.00 L1059.01,181.50 L1059.29,181.00 L1059.56,180.50 L1059.83,180.00 L1060.09,179.50 L1060.35,179.00 L1060.61,178.50 L1060.86,178.00 L1061.11,177.50 L1061.36,177.00 L1061.60,176.50 L1061.83,176.00 L1062.06,175.50 L1062.29,175.00 L1062.51,174.50 L1062.73,174.00 L1062.94,173.50 L1063.14,173.00 L1063.34,172.50 L1063.54,172.00 L1063.73,171.50 L1063.91,171.00 L1064.09,170.50 L1064.26,170.00 L1064.43,169.50 Z" fill="#1f77b4" fill-opacity="0.3"/><path d="M1329.89,406.90 L1334.29,407.40 L1336.69,407.90 L1337.92,408.40 L1338.78,408.90 L1339.59,409.40 L1340.32,409.90 L1340.94,410.40 L1341.42,410.90 L1341.73,411.40 L1341.83,411.90 L1341.69,412.40 L1341.32,412.90 L1340.74,413.40 L1340.01,413.90 L1339.14,414.40 L1338.18,414.90 L1337.15,415.40 L1336.10,415.90 L1335.05,416.40 L1334.02,416.90 L1333.01,417.40 L1332.05,417.90 L1331.13,418.40 L1330.28,418.90 L1329.49,419.40 L1328.75,419.90 L1328.08,420.40 L1327.46,420.90 L1326.90,421.40 L1326.40,421.90 L1325.96,422.40 L1325.57,422.90 L1325.24,423.40 L1324.97,423.90 L1324.74,424.40 L1324.55,424.90 L1324.40,425.40 L1324.28,425.90 L1324.18,426.40 L1324.10,426.90 L1324.03,427.40 L1323.96,427.90 L1323.90,428.40 L1323.83,428.90 L1323.75,429.40 L1323.65,429.90 L1323.53,430.40 L1323.37,430.90 L1323.17,431.40 L1322.92,431.90 L1322.61,432.40 L1322.23,432.90 L1321.78,433.40 L1321.25,433.90 L1320.63,434.40 L1319.90,434.90 L1319.08,435.40 L1318.13,435.90 L1317.08,436.40 L1316.85,436.50 L1262.85,436.50 L1262.62,436.40 L1261.57,435.90 L1260.62,435.40 L1259.80,434.90 L1259.07,434.40 L1258.45,433.90 L1257.92,433.40 L1257.47,432.90 L1257.09,432.40 L1256.78,431.90 L1256.53,431.40 L1256.33,430.90 L1256.17,430.40 L1256.05,429.90 L1255.95,429.40 L1255.87,428.90 L1255.80,428.40 L1255.74,427.90 L1255.67,427.40 L1255.60,426.90 L1255.52,426.40 L1255.42,425.90 L1255.30,425.40 L1255.15,424.90 L1254.96,424.40 L1254.73,423.90 L1254.46,423.40 L1254.13,422.90 L1253.74,422.40 L1253.30,421.90 L1252.80,421.40 L1252.24,420.90 L1251.62,420.40 L1250.95,419.90 L1250.21,419.40 L1249.42,418.90 L1248.57,418.40 L1247.65,417.90 L1246.69,417.40 L1245.68,416.90 L1244.65,416.40 L1243.60,415.90 L1242.55,415.40 L1241.52,414.90 L1240.56,414.40 L1239.69,413.90 L1238.96,413.40 L1238.38,412.90 L1238.01,412.40 L1237.87,411.90 L1237.97,411.40 L1238.28,410.90 L1238.76,410.40 L1239.38,409.90 L1240.11,409.40 L1240.92,408.90 L1241.78,408.40 L1243.01,407.90 L1245.41,407.40 L1249.81,406.90 Z" fill="#1f77b4" fill-opacity="0.3"/></g>
<g stroke="#1f77b4" stroke-width="3.75"><line x1="248.10" y1="396.95" x2="248.10" y2="428.90"/><line x1="222.05" y1="396.95" x2="274.15" y2="396.95"/><line x1="222.05" y1="416.30" x2="274.15" y2="416.30"/><line x1="222.05" y1="428.90" x2="274.15" y2="428.90"/><line x1="456.45" y1="203.70" x2="456.45" y2="433.40"/><line x1="430.40" y1="203.70" x2="482.50" y2="203.70"/><line x1="430.40" y1="418.40" x2="482.50" y2="418.40"/><line x1="430.40" y1="433.40" x2="482.50" y2="433.40"/><line x1="664.80" y1="90.60" x2="664.80" y2="420.40"/><line x1="638.75" y1="90.60" x2="690.85" y2="90.60"/><line x1="638.75" y1="240.40" x2="690.85" y2="240.40"/><line x1="638.75" y1="420.40" x2="690.85" y2="420.40"/><line x1="873.15" y1="74.10" x2="873.15" y2="411.40"/><line x1="847.10" y1="74.10" x2="899.20" y2="74.10"/><line x1="847.10" y1="244.20" x2="899.20" y2="244.20"/><line x1="847.10" y1="411.40" x2="899.20" y2="411.40"/><line x1="1081.50" y1="169.50" x2="1081.50" y2="407.70"/><line x1="1055.45" y1="169.50" x2="1107.55" y2="169.50"/><line x1="1055.45" y1="261.50" x2="1107.55" y2="261.50"/><line x1="1055.45" y1="407.70" x2="1107.55" y2="407.70"/><line x1="1289.85" y1="407.15" x2="1289.85" y2="436.50"/><line x1="1263.80" y1="407.15" x2="1315.90" y2="407.15"/><line x1="1263.80" y1="416.90" x2="1315.90" y2="416.90"/><line x1="1263.80" y1="436.50" x2="1315.90" y2="436.50"/></g>
<g stroke="#000" stroke-width="2"><line x1="130.00" y1="450.20" x2="138.90" y2="450.20"/><line x1="130.00" y1="364.80" x2="138.90" y2="364.80"/><line x1="130.00" y1="279.40" x2="138.90" y2="279.40"/><line x1="130.00" y1="194.00" x2="138.90" y2="194.00"/><line x1="130.00" y1="108.60" x2="138.90" y2="108.60"/><line x1="248.10" y1="454.70" x2="248.10" y2="463.60"/><line x1="456.45" y1="454.70" x2="456.45" y2="463.60"/><line x1="664.80" y1="454.70" x2="664.80" y2="463.60"/><line x1="873.15" y1="454.70" x2="873.15" y2="463.60"/><line x1="1081.50" y1="454.70" x2="1081.50" y2="463.60"/><line x1="1289.85" y1="454.70" x2="1289.85" y2="463.60"/></g>
<rect x="138.90" y="56.40" width="1260.90" height="398.30" fill="none" stroke="#000" stroke-width="2"/>
<g fill="#000" stroke="#000" stroke-width="0.15" font-family="Liberation Sans, sans-serif"><text x="105.92" y="459.50" font-size="25.60">0</text><text x="58.20 74.11 90.02 105.92" y="374.10" font-size="25.60">1000</text><text x="58.20 74.11 90.02 105.92" y="288.70" font-size="25.60">2000</text><text x="58.20 74.11 90.02 105.92" y="203.30" font-size="25.60">3000</text><text x="58.20 74.11 90.02 105.92" y="117.90" font-size="25.60">4000</text><text transform="translate(243.70,488.20) rotate(-45)" x="-137.59 -121.04 -106.78 -97.44 -87.24 -72.09 -60.04 -47.19 -28.68 -13.27 -6.32" y="0" font-size="25.60">Estrus_Call</text><text transform="translate(452.05,488.20) rotate(-45)" x="-281.40 -267.20 -251.82 -236.19 -222.01 -208.63 -190.73 -174.34 -165.25 -158.47 -144.56 -137.44 -121.84 -105.71 -96.63 -89.79 -74.22 -60.04 -47.19 -28.68 -13.27 -6.32" y="0" font-size="25.60">Feed_Anticipation_Call</text><text transform="translate(660.40,488.20) rotate(-45)" x="-381.89 -363.90 -354.43 -339.08 -322.95 -313.69 -298.02 -290.90 -275.04 -260.86 -248.05 -230.67 -215.75 -202.02 -186.34 -179.14 -169.20 -153.08 -144.09 -128.45 -118.05 -105.12 -92.36 -75.36 -59.79 -43.94 -28.09 -12.92" y="0" font-size="25.60">Breathing_Respiratory_Sounds</text><text transform="translate(868.75,488.20) rotate(-45)" x="-367.50 -348.73 -333.11 -317.33 -297.22 -290.11 -274.25 -260.07 -247.26 -229.65 -213.10 -189.62 -182.50 -166.92 -150.79 -141.71 -134.87 -119.30 -105.12 -92.36 -75.36 -59.79 -43.94 -28.09 -12.92" y="0" font-size="25.60">Chewing_Rumination_Sounds</text><text transform="translate(1077.10,488.20) rotate(-45)" x="-325.30 -305.55 -295.52 -288.40 -272.52 -258.25 -251.13 -235.28 -221.09 -208.33 -191.22 -184.10 -168.18 -157.97 -142.28 -135.17 -119.31 -105.12 -92.36 -75.36 -59.79 -43.94 -28.09 -12.92" y="0" font-size="25.60">Drinking_Slurping_Sounds</text><text transform="translate(1285.45,488.20) rotate(-45)" x="-201.01 -184.55 -175.08 -161.14 -147.65 -125.57 -118.62 -111.47 -97.20 -90.08 -74.23 -60.04 -47.19 -28.68 -13.27 -6.32" y="0" font-size="25.60">Pre_Milking_Call</text><text x="516.16 536.90 555.65 573.99 591.54 602.74 614.66 633.16 641.24 650.84 667.45 686.18 705.85 717.05 728.34 746.82 755.37 773.94 783.71 796.49 824.59 843.01 861.71 880.50 891.97 901.98 921.24 938.30 947.90 964.58 972.81 990.68 1006.31" y="41.20" font-size="30.70">Spectral centroid (mean) by class</text><text x="729.26 751.59 759.81 777.68 793.31" y="794.60" font-size="30.70">Class</text><text transform="translate(40.5,256.75) rotate(-90)" x="-147.37 -125.12 -106.38 -86.72 -75.52 -64.23 -45.75 -37.19 -18.62 -7.78 20.32 38.74 57.44 75.99 85.76 96.91 119.48 135.77" y="0" font-size="30.70">Centroid mean (Hz)</text></g></svg>
</body></html>
